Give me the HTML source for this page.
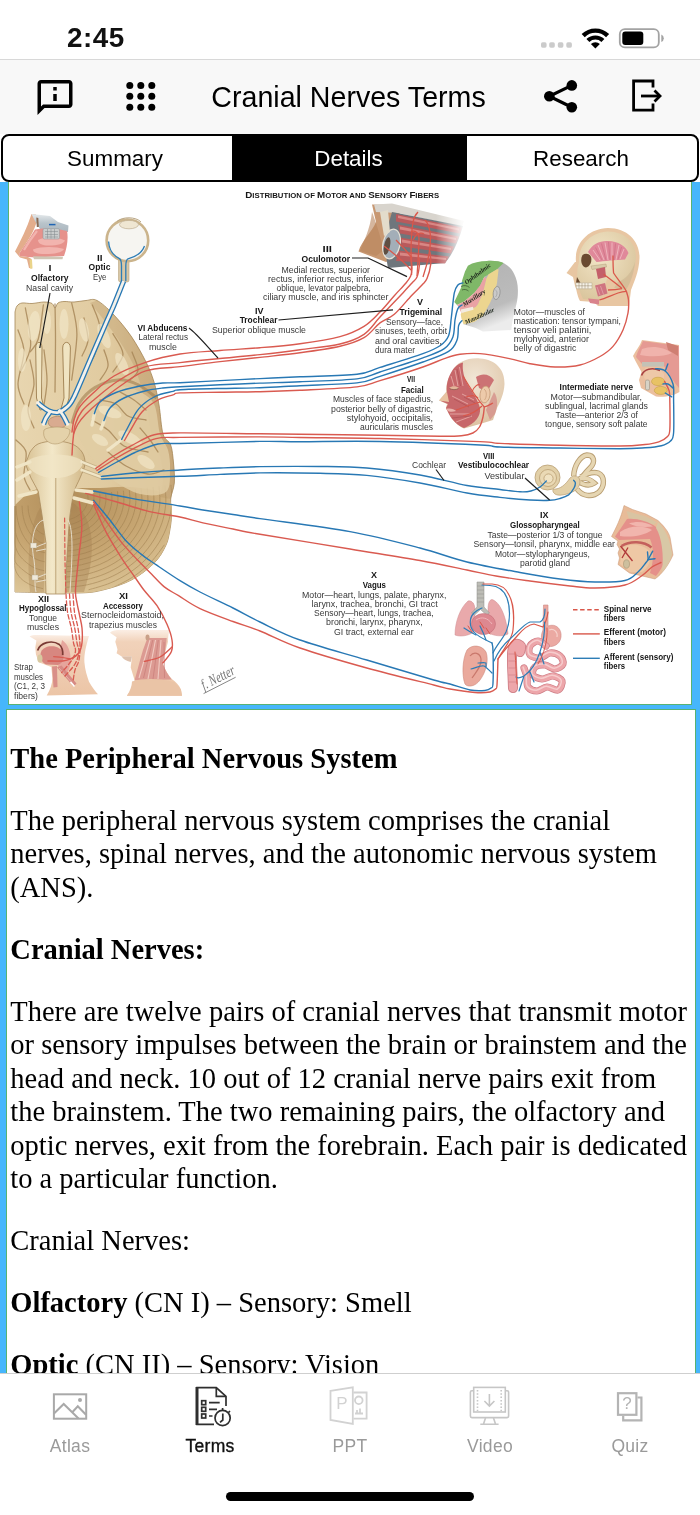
<!DOCTYPE html>
<html><head><meta charset="utf-8">
<style>
html,body{margin:0;padding:0;}
body{width:700px;height:1515px;position:relative;overflow:hidden;background:#fff;font-family:"Liberation Sans",sans-serif;}
.abs{position:absolute;}
#wrap{position:absolute;left:0;top:0;width:700px;height:1515px;will-change:transform;overflow:hidden;}
#status{left:0;top:0;width:700px;height:59px;background:#fff;}
#time{left:67px;top:22px;font-size:27.8px;font-weight:bold;letter-spacing:0.5px;line-height:32px;color:#111;}
#nav{left:0;top:59px;width:700px;height:75px;background:#f8f8f8;border-top:1.5px solid #d8d8d8;box-sizing:border-box;}
#title{left:0;width:697px;top:80px;text-align:center;font-size:28.6px;line-height:34px;color:#000;}
#blue{left:0;top:182px;width:700px;height:1192px;background:#46b6fc;}
#seg{z-index:3;left:1px;top:133.5px;width:698px;height:48.5px;box-sizing:border-box;border:2px solid #000;border-radius:8px;background:#fff;overflow:hidden;}
#seg div{position:absolute;top:0;height:45px;line-height:45px;text-align:center;font-size:22.4px;color:#000;}
#figpanel{left:8px;top:180px;width:684px;height:525px;background:#fff;box-sizing:border-box;border:1px solid #58b272;}
#textpanel{left:6px;top:709px;width:690px;height:700px;background:#fff;box-sizing:border-box;border:1px solid #58b272;}
#text{left:10.3px;top:741.8px;width:690px;font-family:"Liberation Serif",serif;font-size:28.5px;line-height:33.5px;color:#000;white-space:nowrap;}
#text p{margin:0 0 28.5px 0;}
#tabbar{left:0;top:1373px;width:700px;height:142px;background:#fff;border-top:1px solid #cfcfcf;box-sizing:border-box;}
.tl{position:absolute;top:1435px;width:140px;text-align:center;font-size:17.5px;line-height:22px;color:#9a9a9a;letter-spacing:0.3px;}
#home{left:226px;top:1492px;width:248px;height:9px;border-radius:5px;background:#000;}
</style></head><body>
<div id="wrap">
<div id="status" class="abs"></div>
<div id="time" class="abs">2:45</div>
<div id="nav" class="abs"></div>
<div id="title" class="abs">Cranial Nerves Terms</div>
<div id="blue" class="abs"></div>
<div id="seg" class="abs">
 <div style="left:0;width:229px;text-indent:-5px;">Summary</div>
 <div style="left:229px;width:235px;background:#000;color:#fff;text-indent:-2px;">Details</div>
 <div style="left:464px;width:230px;text-indent:-2px;">Research</div>
</div>
<div id="figpanel" class="abs"></div>
<!--FIGSVG-->
<svg class="abs" style="left:9px;top:184px" width="682" height="520" viewBox="9 184 682 520" font-family="Liberation Sans, sans-serif">
<defs>
<linearGradient id="gBrain" x1="0" y1="0" x2="1" y2="0"><stop offset="0" stop-color="#e8d6b0"/><stop offset="0.6" stop-color="#e0ca9f"/><stop offset="1" stop-color="#cfb184"/></linearGradient>
<radialGradient id="gCereb" cx="0.35" cy="0.15" r="0.95"><stop offset="0" stop-color="#b08c58"/><stop offset="0.5" stop-color="#c7a672"/><stop offset="1" stop-color="#dfc99c"/></radialGradient>
<linearGradient id="gStem" x1="0" y1="0" x2="1" y2="0"><stop offset="0" stop-color="#d8c193"/><stop offset="0.45" stop-color="#f3e8c9"/><stop offset="1" stop-color="#d2b888"/></linearGradient>
<radialGradient id="gSkin" cx="0.4" cy="0.35" r="0.8"><stop offset="0" stop-color="#f3dcc2"/><stop offset="1" stop-color="#dfb592"/></radialGradient>
<radialGradient id="gPink" cx="0.4" cy="0.35" r="0.8"><stop offset="0" stop-color="#f2b6b0"/><stop offset="1" stop-color="#d9807c"/></radialGradient>
<radialGradient id="gBone" cx="0.4" cy="0.35" r="0.8"><stop offset="0" stop-color="#f2e6c8"/><stop offset="1" stop-color="#d6c096"/></radialGradient>
<linearGradient id="gSkin2" x1="0" y1="0" x2="0" y2="1"><stop offset="0" stop-color="#fbeee4"/><stop offset="0.18" stop-color="#f1d2ba"/><stop offset="1" stop-color="#ecc5a6"/></linearGradient>
<linearGradient id="gGrey" x1="0" y1="0" x2="0.3" y2="1"><stop offset="0" stop-color="#b2b2b2"/><stop offset="0.75" stop-color="#bcbcbc"/><stop offset="1" stop-color="#ececec"/></linearGradient>
<linearGradient id="gFadeR" x1="0" y1="0" x2="1" y2="0"><stop offset="0" stop-color="#fff" stop-opacity="0"/><stop offset="0.8" stop-color="#fff" stop-opacity="0.9"/><stop offset="1" stop-color="#fff" stop-opacity="1"/></linearGradient>
<radialGradient id="gScalp" cx="0.55" cy="0.3" r="0.7"><stop offset="0" stop-color="#f1e6d6"/><stop offset="1" stop-color="#dcc0a0"/></radialGradient>
<linearGradient id="gNoseTop" x1="0" y1="0" x2="0" y2="1"><stop offset="0" stop-color="#e6eaec"/><stop offset="0.5" stop-color="#b9c4cb"/><stop offset="1" stop-color="#aab6be"/></linearGradient>
</defs>
<g id="brain">
<clipPath id="cbClip"><path d="M15.0 312.0 C15.3 311.0 15.8 307.5 17.0 306.0 C18.2 304.5 19.5 303.4 22.0 303.0 C24.5 302.6 28.3 303.7 32.0 303.5 C35.7 303.3 40.7 302.0 44.0 302.0 C47.3 302.0 50.2 302.5 52.0 303.5 C53.8 304.5 54.0 308.1 55.0 308.0 C56.0 307.9 56.5 304.1 58.0 303.0 C59.5 301.9 61.3 301.7 64.0 301.5 C66.7 301.3 70.3 302.2 74.0 302.0 C77.7 301.8 82.2 300.8 86.0 300.5 C89.8 300.2 92.5 298.2 97.0 300.5 C101.5 302.8 107.3 308.1 113.0 314.0 C118.7 319.9 125.5 328.0 131.0 336.0 C136.5 344.0 142.2 354.3 146.0 362.0 C149.8 369.7 151.8 374.8 154.0 382.0 C156.2 389.2 157.5 396.3 159.0 405.0 C160.5 413.7 161.1 427.3 163.0 434.0 C164.9 440.7 168.9 440.2 170.7 445.0 C172.4 449.8 172.9 456.7 173.5 463.0 C174.1 469.3 174.8 477.0 174.3 483.0 C173.8 489.0 171.2 493.3 170.7 499.0 C170.2 504.7 171.6 511.5 171.4 517.0 C171.2 522.5 170.4 527.2 169.5 532.0 C168.6 536.8 168.2 540.6 165.7 545.7 C163.2 550.9 160.0 557.2 154.3 562.9 C148.6 568.6 140.0 575.5 131.4 580.0 C122.8 584.5 112.0 587.8 102.9 590.0 C93.8 592.2 91.5 592.7 77.0 593.0 C62.5 593.3 26.2 592.2 16.0 592.0 L15 592 L15 312 Z"/></clipPath>
<path d="M15.0 312.0 C15.3 311.0 15.8 307.5 17.0 306.0 C18.2 304.5 19.5 303.4 22.0 303.0 C24.5 302.6 28.3 303.7 32.0 303.5 C35.7 303.3 40.7 302.0 44.0 302.0 C47.3 302.0 50.2 302.5 52.0 303.5 C53.8 304.5 54.0 308.1 55.0 308.0 C56.0 307.9 56.5 304.1 58.0 303.0 C59.5 301.9 61.3 301.7 64.0 301.5 C66.7 301.3 70.3 302.2 74.0 302.0 C77.7 301.8 82.2 300.8 86.0 300.5 C89.8 300.2 92.5 298.2 97.0 300.5 C101.5 302.8 107.3 308.1 113.0 314.0 C118.7 319.9 125.5 328.0 131.0 336.0 C136.5 344.0 142.2 354.3 146.0 362.0 C149.8 369.7 151.8 374.8 154.0 382.0 C156.2 389.2 157.5 396.3 159.0 405.0 C160.5 413.7 161.1 427.3 163.0 434.0 C164.9 440.7 168.9 440.2 170.7 445.0 C172.4 449.8 172.9 456.7 173.5 463.0 C174.1 469.3 174.8 477.0 174.3 483.0 C173.8 489.0 171.2 493.3 170.7 499.0 C170.2 504.7 171.6 511.5 171.4 517.0 C171.2 522.5 170.4 527.2 169.5 532.0 C168.6 536.8 168.2 540.6 165.7 545.7 C163.2 550.9 160.0 557.2 154.3 562.9 C148.6 568.6 140.0 575.5 131.4 580.0 C122.8 584.5 112.0 587.8 102.9 590.0 C93.8 592.2 91.5 592.7 77.0 593.0 C62.5 593.3 26.2 592.2 16.0 592.0 L15 592 L15 312 Z" fill="url(#gBrain)" stroke="#a38556" stroke-width="0.8"/>
<path d="M15.0 505.0 C17.5 502.8 25.0 494.8 30.0 492.0 C35.0 489.2 38.3 488.7 45.0 488.0 C51.7 487.3 60.8 488.0 70.0 488.0 C79.2 488.0 90.0 488.2 100.0 488.0 C110.0 487.8 120.0 486.3 130.0 487.0 C140.0 487.7 153.2 489.3 160.0 492.0 C166.8 494.7 169.1 498.8 171.0 503.0 C172.9 507.2 171.7 512.2 171.4 517.0 C171.2 521.8 170.4 527.2 169.5 532.0 C168.6 536.8 168.2 540.6 165.7 545.7 C163.2 550.9 160.0 557.2 154.3 562.9 C148.6 568.6 140.0 575.5 131.4 580.0 C122.8 584.5 112.0 587.8 102.9 590.0 C93.8 592.2 91.5 592.7 77.0 593.0 C62.5 593.3 26.2 592.2 16.0 592.0 L15 592 Z" fill="url(#gCereb)"/>
<g fill="none" stroke="#9c7c4c" stroke-width="0.800" opacity="0.65" clip-path="url(#cbClip)"><path d="M87.7 494.9 C87.8 495.7 88.1 498.0 87.9 499.6 C87.8 501.1 87.5 502.7 87.0 504.2 C86.5 505.7 85.8 507.1 85.0 508.5 C84.1 509.9 83.1 511.2 81.9 512.4 C80.8 513.6 79.4 514.7 78.0 515.6 C76.6 516.6 75.0 517.4 73.4 518.1 C71.8 518.8 70.0 519.3 68.3 519.7 C66.5 520.1 63.8 520.2 62.9 520.3"/><path d="M93.7 494.2 C93.7 495.1 94.1 498.0 93.9 499.9 C93.8 501.8 93.4 503.8 92.8 505.6 C92.1 507.4 91.3 509.2 90.3 510.9 C89.2 512.6 87.9 514.2 86.5 515.7 C85.1 517.2 83.4 518.5 81.7 519.7 C80.0 520.9 78.0 521.9 76.0 522.7 C74.0 523.6 71.9 524.2 69.7 524.7 C67.6 525.2 64.2 525.4 63.1 525.5"/><path d="M99.6 493.5 C99.7 494.6 100.1 498.0 99.9 500.3 C99.7 502.5 99.3 504.8 98.5 507.0 C97.8 509.2 96.8 511.3 95.6 513.3 C94.3 515.3 92.8 517.3 91.1 519.0 C89.4 520.7 87.5 522.4 85.4 523.8 C83.3 525.1 81.0 526.4 78.7 527.4 C76.3 528.4 73.7 529.2 71.2 529.7 C68.6 530.3 64.6 530.5 63.3 530.7"/><path d="M105.6 492.7 C105.6 494.1 106.1 498.0 105.9 500.6 C105.7 503.3 105.1 505.9 104.3 508.4 C103.5 511.0 102.3 513.4 100.8 515.8 C99.4 518.1 97.7 520.3 95.7 522.3 C93.7 524.3 91.5 526.2 89.1 527.8 C86.7 529.4 84.0 530.9 81.3 532.0 C78.5 533.2 75.6 534.1 72.6 534.7 C69.7 535.4 65.1 535.6 63.5 535.8"/><path d="M111.5 492.0 C111.6 493.5 112.1 498.0 111.9 501.0 C111.6 504.0 111.0 507.0 110.1 509.9 C109.1 512.7 107.8 515.6 106.1 518.2 C104.5 520.8 102.5 523.4 100.3 525.6 C98.1 527.9 95.5 530.0 92.8 531.9 C90.1 533.7 87.0 535.3 83.9 536.6 C80.8 538.0 77.5 539.0 74.1 539.7 C70.7 540.4 65.5 540.8 63.7 541.0"/><path d="M117.5 491.3 C117.5 493.0 118.1 498.0 117.9 501.4 C117.6 504.7 116.9 508.1 115.8 511.3 C114.8 514.5 113.3 517.7 111.4 520.6 C109.6 523.6 107.4 526.4 104.9 529.0 C102.4 531.5 99.5 533.9 96.5 536.0 C93.4 538.0 90.0 539.8 86.5 541.3 C83.1 542.7 79.3 543.9 75.5 544.7 C71.8 545.5 65.9 545.9 64.0 546.1"/><path d="M123.4 490.6 C123.5 492.4 124.1 498.0 123.8 501.7 C123.5 505.4 122.8 509.1 121.6 512.7 C120.4 516.2 118.8 519.8 116.7 523.0 C114.7 526.3 112.3 529.4 109.5 532.3 C106.7 535.1 103.6 537.7 100.2 540.0 C96.8 542.3 93.0 544.3 89.2 545.9 C85.3 547.5 81.2 548.8 77.0 549.7 C72.8 550.6 66.3 551.0 64.2 551.3"/><path d="M129.3 489.9 C129.4 491.9 130.2 498.0 129.8 502.1 C129.5 506.1 128.7 510.2 127.4 514.1 C126.1 518.0 124.3 521.9 122.0 525.5 C119.8 529.0 117.1 532.5 114.1 535.6 C111.1 538.7 107.6 541.6 103.9 544.1 C100.2 546.6 96.0 548.8 91.8 550.6 C87.6 552.3 83.0 553.8 78.5 554.7 C73.9 555.7 66.7 556.2 64.4 556.4"/><path d="M135.3 489.1 C135.4 491.4 136.2 498.0 135.8 502.4 C135.5 506.8 134.5 511.3 133.1 515.5 C131.7 519.8 129.7 524.0 127.3 527.9 C124.9 531.8 122.0 535.5 118.7 538.9 C115.4 542.3 111.6 545.4 107.6 548.1 C103.5 550.9 99.0 553.3 94.4 555.2 C89.8 557.1 84.9 558.7 79.9 559.7 C74.9 560.8 67.1 561.3 64.6 561.6"/><path d="M141.2 488.4 C141.3 490.8 142.2 498.0 141.8 502.8 C141.4 507.6 140.4 512.4 138.9 517.0 C137.4 521.5 135.2 526.1 132.6 530.3 C130.0 534.5 126.8 538.6 123.3 542.2 C119.7 545.9 115.6 549.3 111.3 552.2 C106.9 555.2 102.1 557.7 97.1 559.8 C92.1 561.9 86.7 563.6 81.4 564.8 C76.0 565.9 67.6 566.4 64.8 566.8"/><path d="M147.2 487.7 C147.3 490.3 148.2 498.0 147.8 503.2 C147.4 508.3 146.3 513.5 144.7 518.4 C143.0 523.3 140.7 528.2 137.9 532.7 C135.1 537.2 131.7 541.6 127.9 545.5 C124.0 549.5 119.6 553.1 114.9 556.3 C110.3 559.4 105.1 562.2 99.7 564.5 C94.3 566.7 88.6 568.5 82.8 569.8 C77.0 571.0 68.0 571.6 65.0 571.9"/><path d="M153.1 487.0 C153.2 489.7 154.2 498.0 153.8 503.5 C153.3 509.0 152.2 514.5 150.4 519.8 C148.7 525.1 146.2 530.3 143.2 535.1 C140.2 540.0 136.6 544.7 132.5 548.9 C128.4 553.1 123.7 557.0 118.6 560.3 C113.6 563.7 108.1 566.7 102.3 569.1 C96.6 571.5 90.4 573.4 84.3 574.8 C78.1 576.1 68.4 576.7 65.2 577.1"/><path d="M159.0 486.3 C159.2 489.2 160.2 498.1 159.8 503.9 C159.3 509.7 158.1 515.6 156.2 521.2 C154.3 526.8 151.7 532.4 148.5 537.6 C145.3 542.7 141.4 547.7 137.1 552.2 C132.7 556.6 127.7 560.8 122.3 564.4 C117.0 568.0 111.1 571.2 105.0 573.8 C98.9 576.3 92.3 578.4 85.7 579.8 C79.1 581.2 68.8 581.8 65.4 582.2"/><path d="M165.0 485.6 C165.1 488.7 166.2 498.1 165.7 504.2 C165.2 510.4 164.0 516.7 162.0 522.7 C160.0 528.6 157.2 534.5 153.8 540.0 C150.4 545.5 146.3 550.7 141.7 555.5 C137.0 560.2 131.7 564.7 126.0 568.5 C120.3 572.3 114.1 575.7 107.6 578.4 C101.1 581.1 94.2 583.3 87.2 584.8 C80.2 586.3 69.2 587.0 65.6 587.4"/><path d="M170.9 484.8 C171.1 488.1 172.3 498.1 171.7 504.6 C171.2 511.1 169.8 517.8 167.7 524.1 C165.6 530.4 162.7 536.6 159.1 542.4 C155.5 548.2 151.2 553.8 146.3 558.8 C141.4 563.8 135.7 568.5 129.7 572.5 C123.7 576.6 117.1 580.2 110.2 583.0 C103.4 585.9 92.2 588.7 88.6 589.8"/><path d="M164.4 544.8 C162.2 547.7 156.0 556.8 150.9 562.1 C145.7 567.4 139.8 572.4 133.4 576.6 C127.1 580.9 116.3 585.8 112.9 587.7"/></g>
<g fill="none" stroke="#9c7c4c" stroke-width="0.800" opacity="0.6"><path d="M46.3 534.9 C45.6 534.7 43.5 534.3 42.2 533.7 C40.8 533.1 39.5 532.2 38.3 531.2 C37.1 530.2 35.9 529.0 34.9 527.6 C33.8 526.3 32.9 524.7 32.0 523.1 C31.2 521.4 30.5 519.6 29.9 517.7 C29.3 515.8 28.8 513.8 28.5 511.7 C28.2 509.7 28.1 506.6 28.0 505.5"/><path d="M45.7 543.9 C44.8 543.6 42.1 543.1 40.4 542.3 C38.7 541.5 37.0 540.4 35.4 539.1 C33.8 537.8 32.3 536.2 30.9 534.4 C29.6 532.7 28.3 530.6 27.2 528.5 C26.2 526.3 25.2 523.9 24.4 521.5 C23.7 519.0 23.1 516.4 22.7 513.8 C22.3 511.1 22.1 507.0 22.0 505.7"/><path d="M45.2 552.8 C44.1 552.5 40.8 551.9 38.6 550.9 C36.5 549.9 34.4 548.6 32.5 547.0 C30.5 545.4 28.7 543.4 27.0 541.2 C25.3 539.0 23.8 536.5 22.4 533.9 C21.1 531.2 19.9 528.3 19.0 525.3 C18.1 522.3 17.3 519.0 16.8 515.8 C16.3 512.6 16.1 507.5 16.0 505.8"/><path d="M44.7 561.8 C43.4 561.4 39.4 560.7 36.9 559.5 C34.4 558.4 31.9 556.8 29.6 554.9 C27.3 552.9 25.1 550.6 23.1 548.0 C21.1 545.4 19.0 542.5 17.7 539.3 C16.3 536.1 15.4 532.7 15.0 529.1 C14.6 525.5 15.0 521.7 15.0 517.8 C15.0 514.0 15.0 508.0 15.0 506.0"/><path d="M44.2 570.7 C42.7 570.3 38.1 569.5 35.1 568.1 C32.2 566.8 29.3 564.9 26.7 562.7 C24.0 560.5 21.1 557.8 19.1 554.8 C17.2 551.8 15.7 548.4 15.0 544.7 C14.3 541.1 15.0 537.0 15.0 532.9 C15.0 528.7 15.0 524.3 15.0 519.8 C15.0 515.4 15.0 508.4 15.0 506.2"/><path d="M43.6 579.7 C41.9 579.2 36.7 578.2 33.4 576.7 C30.1 575.2 26.8 573.1 23.8 570.6 C20.7 568.1 16.7 565.0 15.2 561.6 C13.7 558.2 15.0 554.3 15.0 550.1 C15.0 546.0 15.0 541.4 15.0 536.7 C15.0 532.0 15.0 526.9 15.0 521.9 C15.0 516.8 15.0 508.9 15.0 506.3"/><path d="M43.1 588.7 C41.2 588.1 35.3 587.0 31.6 585.3 C27.9 583.6 23.6 581.3 20.9 578.5 C18.1 575.6 16.0 572.2 15.0 568.4 C14.0 564.6 15.0 560.2 15.0 555.6 C15.0 550.9 15.0 545.8 15.0 540.5 C15.0 535.2 15.0 529.6 15.0 523.9 C15.0 518.2 15.0 509.4 15.0 506.5"/></g>
<path d="M68 500 C90 510 100 540 84 592 L66 592 L66 520Z" fill="#a07c4c" opacity="0.35"/>
<path d="M42 505 C30 520 26 560 30 592 L44 592 L44 520Z" fill="#a07c4c" opacity="0.30"/>
<path d="M97.0 300.5 C99.7 302.8 107.3 308.1 113.0 314.0 C118.7 319.9 125.5 328.0 131.0 336.0 C136.5 344.0 142.2 354.3 146.0 362.0 C149.8 369.7 151.8 374.8 154.0 382.0 C156.2 389.2 157.5 396.3 159.0 405.0 C160.5 413.7 161.1 427.3 163.0 434.0 C164.9 440.7 168.9 440.2 170.7 445.0 C172.4 449.8 172.9 456.7 173.5 463.0 C174.1 469.3 174.8 477.0 174.3 483.0 C173.8 489.0 171.3 496.3 170.7 499.0 L160.0 497.0 C160.5 493.8 163.0 484.8 163.0 478.0 C163.0 471.2 161.8 463.0 160.0 456.0 C158.2 449.0 154.2 443.7 152.0 436.0 C149.8 428.3 148.8 418.3 147.0 410.0 C145.2 401.7 143.3 393.7 141.0 386.0 C138.7 378.3 136.5 371.3 133.0 364.0 C129.5 356.7 124.8 349.3 120.0 342.0 C115.2 334.7 109.0 326.5 104.0 320.0 C99.0 313.5 92.3 305.8 90.0 303.0 Z" fill="#b08c5a" opacity="0.28"/>
<path d="M71.7 423.6 C73.0 420.2 75.5 409.0 79.4 403.0 C83.3 397.0 88.5 391.5 94.9 387.6 C101.3 383.8 110.7 380.3 118.0 379.9 C125.3 379.5 132.2 382.0 138.6 385.0 C145.0 388.0 153.6 395.8 156.6 397.9" fill="none" stroke="#9a7848" stroke-width="3" opacity="0.55"/>
<path d="M74.0 430.0 C75.3 426.3 78.2 414.2 82.0 408.0 C85.8 401.8 91.0 396.7 97.0 393.0 C103.0 389.3 111.2 386.3 118.0 386.0 C124.8 385.7 132.0 388.0 138.0 391.0 C144.0 394.0 150.3 396.8 154.0 404.0 C157.7 411.2 157.7 426.3 160.0 434.0 C162.3 441.7 166.3 444.0 168.0 450.0 C169.7 456.0 170.3 463.0 170.0 470.0 C169.7 477.0 171.0 488.0 166.0 492.0 C161.0 496.0 149.3 496.3 140.0 494.0 C130.7 491.7 118.3 484.3 110.0 478.0 C101.7 471.7 93.3 459.7 90.0 456.0 Z" fill="#e1cda3" opacity="0.85"/>
<g fill="none" stroke="#a58455" stroke-width="1.300" opacity="0.8" stroke-linecap="round"><path d="M55.0 304.0 C55.1 310.0 55.5 325.3 55.5 340.0 C55.5 354.7 55.1 383.3 55.0 392.0"/><path d="M25.4 308.0 C26.3 314.3 31.5 335.3 30.6 346.0 C29.8 356.7 22.0 367.7 20.3 372.0"/><path d="M43.4 305.0 C42.5 310.7 40.5 331.2 38.3 339.0 C36.1 346.8 31.4 349.8 30.0 352.0"/><path d="M18.0 330.0 C19.0 333.7 24.0 343.0 24.0 352.0 C24.0 361.0 18.0 375.3 18.0 384.0 C18.0 392.7 23.0 400.7 24.0 404.0"/><path d="M30.0 360.0 C30.7 364.0 34.3 375.7 34.0 384.0 C33.7 392.3 28.0 402.7 28.0 410.0 C28.0 417.3 33.0 425.0 34.0 428.0"/><path d="M44.0 350.0 C44.5 355.0 47.0 370.8 47.0 380.0 C47.0 389.2 44.5 400.8 44.0 405.0"/><path d="M71.7 303.0 C72.6 308.2 76.9 321.2 76.9 334.0 C76.9 346.8 72.6 372.3 71.7 380.0"/><path d="M92.3 305.0 C93.6 308.8 99.6 319.8 100.0 328.0 C100.4 336.2 97.6 346.7 94.9 354.0 C92.2 361.3 85.8 369.0 84.0 372.0"/><path d="M112.9 333.6 C114.6 337.0 123.0 347.6 123.0 354.0 C123.0 360.4 114.6 369.0 112.9 372.0"/><path d="M84.0 318.0 C84.7 321.7 88.3 333.7 88.0 340.0 C87.7 346.3 83.0 353.3 82.0 356.0"/><path d="M104.0 350.0 C104.7 352.7 108.7 361.0 108.0 366.0 C107.3 371.0 101.3 377.7 100.0 380.0"/><path d="M132.0 352.0 C133.0 355.0 138.3 365.3 138.0 370.0 C137.7 374.7 131.3 378.3 130.0 380.0"/><path d="M100.0 400.0 C102.7 400.7 111.3 401.3 116.0 404.0 C120.7 406.7 123.0 413.3 128.0 416.0 C133.0 418.7 143.0 419.3 146.0 420.0"/><path d="M92.0 420.0 C94.7 421.7 102.7 425.7 108.0 430.0 C113.3 434.3 117.3 442.3 124.0 446.0 C130.7 449.7 144.0 451.0 148.0 452.0"/><path d="M108.0 452.0 C111.0 454.3 119.3 462.3 126.0 466.0 C132.7 469.7 141.7 473.3 148.0 474.0 C154.3 474.7 161.3 470.7 164.0 470.0"/><path d="M120.0 392.0 C122.3 393.3 129.7 397.0 134.0 400.0 C138.3 403.0 144.0 408.3 146.0 410.0"/><path d="M140.0 428.0 C141.7 430.0 147.0 436.0 150.0 440.0 C153.0 444.0 156.7 450.0 158.0 452.0"/><path d="M16.0 440.0 C17.7 442.0 24.7 446.0 26.0 452.0 C27.3 458.0 23.3 469.7 24.0 476.0 C24.7 482.3 29.0 487.7 30.0 490.0"/></g>
<g fill="#f3e8ca" opacity="0.65"><ellipse cx="34" cy="326" rx="6" ry="15" transform="rotate(6 34 326)"/><ellipse cx="47" cy="322" rx="4" ry="12"/><ellipse cx="64" cy="324" rx="4.500" ry="15"/><ellipse cx="84" cy="330" rx="4.500" ry="12" transform="rotate(-12 84 330)"/><ellipse cx="104" cy="336" rx="5" ry="13" transform="rotate(-22 104 336)"/><ellipse cx="122" cy="364" rx="5" ry="12" transform="rotate(-25 122 364)"/><ellipse cx="22" cy="360" rx="4" ry="12"/><ellipse cx="26" cy="418" rx="5" ry="13"/><ellipse cx="40" cy="376" rx="3.500" ry="14"/><ellipse cx="110" cy="412" rx="12" ry="5" transform="rotate(20 110 412)"/><ellipse cx="130" cy="438" rx="13" ry="5" transform="rotate(28 130 438)"/><ellipse cx="146" cy="462" rx="10" ry="5" transform="rotate(35 146 462)"/><ellipse cx="100" cy="440" rx="9" ry="4.500" transform="rotate(30 100 440)"/></g>
<path d="M35.700 348 C35.700 340.500 42 340.500 42 348 L41.500 398 L44.500 409 L40 410 L36.500 398Z" fill="#f0e4c2" stroke="#9c7d4e" stroke-width="0.9"/>
<path d="M62.700 348 C62.700 340.500 70.400 340.500 70.400 348 L69 398 L65.500 410 L61 409 L64 398Z" fill="#f0e4c2" stroke="#9c7d4e" stroke-width="0.9"/>
<path d="M30.0 452.0 C31.3 450.7 33.8 445.8 38.0 444.0 C42.2 442.2 49.3 441.0 55.0 441.0 C60.7 441.0 67.5 442.2 72.0 444.0 C76.5 445.8 79.8 448.7 82.0 452.0 C84.2 455.3 85.3 459.7 85.0 464.0 C84.7 468.3 81.8 473.4 80.0 478.0 C78.2 482.6 76.0 485.2 74.3 491.4 C72.6 497.6 71.1 506.4 70.0 515.0 C68.9 523.6 68.6 533.0 67.9 543.0 C67.2 553.0 66.4 566.5 66.0 575.0 C65.6 583.5 65.4 590.8 65.3 594.0 L46 594 L45.5 575 L46 543 L42 515 L38.3 491.4 L31 478 L25.4 464 Z" fill="url(#gStem)" stroke="#a98c5e" stroke-width="0.8"/>
<path d="M55.800 478 L55.800 594" stroke="#b79c6e" stroke-width="0.9" fill="none"/>
<path d="M26 462 C36 452 74 452 84 462 C80 472 70 478 55 478 C40 478 30 472 26 462Z" fill="#f1e6c6" opacity="0.7"/>
<g stroke="#f0e5c6" stroke-width="3.400" stroke-linecap="round" fill="none"><path d="M82 462 L97 468"/><path d="M82 470 L101 477"/><path d="M76 490 L92 492"/><path d="M74 498 L93 503"/><path d="M30 462 L17 467"/><path d="M30 472 L17 480"/><path d="M36 492 L19 496"/><path d="M92 425 L94.300 414"/><path d="M101 429 L104 421"/><path d="M108 450 L121 440"/></g>
<g stroke="#a98c5e" stroke-width="0.5" fill="none"><path d="M82 460.300 L97 466.300 M82 463.700 L97 469.700 M82 468.300 L101 475.300 M82 471.700 L101 478.700"/></g>
<g stroke="#e9e3d4" stroke-width="1" fill="none" opacity="0.9"><path d="M44 520 C34 522 30 540 34 560 C36 575 34 585 36 592"/><path d="M68 520 C74 530 72 560 70 592"/><path d="M36 547 L46 543 M36 551 L46 549 M36 578 L46 574 M36 582 L46 580"/></g>
<rect x="30.500" y="543" width="6" height="5" fill="#efe9da" stroke="#b5aa90" stroke-width="0.4"/><rect x="32" y="575" width="6" height="5" fill="#efe9da" stroke="#b5aa90" stroke-width="0.4"/>
<ellipse cx="57.600" cy="422.300" rx="9.500" ry="6" fill="#d9ab90" stroke="#a1805c" stroke-width="0.6"/>
<path d="M44 430 C48 426 66 426 70 430 C70 438 62 444 55 444 C48 444 42 438 44 430Z" fill="#e4d2aa" stroke="#a98c5e" stroke-width="0.5"/>
</g>
<g id="nose">
<path d="M31.500 214 L36 214.500 L36 224 C32 236 24 246 19 254 L20 256 L28 257 L31.500 259 L32 268.500 L29 268 L27 259.500 L20 257.500 L15 251.500 C21 240 27 228 31.500 214Z" fill="#e3ad8c"/>
<path d="M31.500 214 L50 216 L58 222 L68.500 225.500 L68 232 L40 229 L35 221Z" fill="url(#gNoseTop)"/>
<path d="M36.300 217.500 L38.300 218 L38.800 227 L36.800 227Z" fill="#8a6a52"/>
<path d="M19 254 C24 246 30 238 35 229.500 L42 228.500 L60 229.500 L67 231 C68.500 238 67 248 64 256 L36 257.500 L28 257 L20 256Z" fill="#e6928c"/>
<path d="M38 240 C46 236.500 58 237 65 240.500 C64 244 56 246 46 245.500 C41 245 38 243 38 240Z" fill="#f2b4ae"/>
<path d="M33 249.500 C42 246 56 246.500 64 249 C62 253 52 254.500 42 254 C36 253.500 33 252 33 249.500Z" fill="#f2b4ae"/>
<path d="M24 250 C28 243 33 236 37 231" stroke="#f2b4ae" stroke-width="2.200" fill="none"/>
<rect x="43" y="228.500" width="16.500" height="10.500" rx="1.500" fill="#c9cccc" stroke="#8d9498" stroke-width="0.5"/>
<path d="M45 231.500 h13 M45 234.500 h13 M45 237 h13 M47.500 229 v9.500 M51 229 v9.500 M54.500 229 v9.500" stroke="#80888c" stroke-width="0.5" fill="none"/>
<path d="M49 224.600 h6.500" stroke="#1f64b4" stroke-width="1.500"/>
<path d="M33 256.300 L63 256.800 L62.500 259.300 L34 259.300Z" fill="#cfc6b4"/>
<path d="M29.500 259.500 L32 259.500 L32.500 268.500 L30 268.500Z" fill="#ead48a"/>
</g>
<g id="eye">
<rect x="118.500" y="256" width="10.500" height="26" rx="2" fill="#d8c7a6" stroke="#b8a27c" stroke-width="0.6"/>
<circle cx="127.400" cy="240.400" r="20.800" fill="#f6f5f1" stroke="#cbb48c" stroke-width="2.600"/>
<ellipse cx="129" cy="224.600" rx="9.500" ry="4.200" fill="#efe6d2" stroke="#bfae90" stroke-width="0.7"/>
<path d="M117 221.500 C122 216.500 136 216.500 141 222" fill="none" stroke="#b9a684" stroke-width="1"/>
<path d="M108.600 241.500 C109 250 114 256 119.500 258.600 C121.500 260 121.500 262 121.500 266 L121.500 281" fill="none" stroke="#2d7db6" stroke-width="1.300"/>
<path d="M144.500 246 C142 253 135 257 128 258.800 C126 260 125.800 262 125.800 266 L125.800 281" fill="none" stroke="#2d7db6" stroke-width="1.300"/>
</g>
<g id="orbit">
<path d="M372 204.500 L392 205 L400 214 L396 258 L386 262 L358.500 251.500 C362 240 372 232 376 222 Z" fill="#c89872"/>
<path d="M372 212 C376 222 380 236 384 250 L376 256 L360 251 C364 240 370 230 372 212Z" fill="#b9855e" opacity="0.6"/>
<path d="M374 204.500 L392 203.500 L464 221 L462 226.500 L398 213 L376 212Z" fill="#d8d4cd"/>
<path d="M392 212 L463 226 C459 240 453 254 445 263 L388 268 C384 250 386 230 392 212Z" fill="#6f767c"/>
<g fill="#b95a5c"><path d="M396 214 L462 227.500 L460 233.500 L396 221.500Z"/><path d="M398 224.500 L459 236.500 L456 243.500 L400 233.500Z"/><path d="M400 237.500 L454 246.500 L451 253.500 L402 246.500Z"/><path d="M398 250.500 L449 256.500 L445 263.500 L396 261Z"/></g>
<g fill="#de8f8c" opacity="0.85"><path d="M398 215.500 L459 228.500 L459 230.500 L398 218Z"/><path d="M400 226.500 L456 238 L456 240 L400 229.500Z"/><path d="M402 239.500 L451 248 L451 250 L402 242.500Z"/><path d="M400 252.500 L446 258 L446 260 L400 255.500Z"/></g>
<ellipse cx="391.500" cy="244" rx="8.500" ry="15" transform="rotate(12 391.500 244)" fill="#a3aeb8" stroke="#e6e1d6" stroke-width="1.300"/>
<ellipse cx="387" cy="246" rx="3" ry="9" transform="rotate(12 387 246)" fill="#5f4e42"/>
<path d="M380 212 L388 210 L390 232 L384 236Z" fill="#e3dccb"/>
<rect x="436" y="200" width="32" height="72" fill="url(#gFadeR)"/>
<path d="M411.600 275 C411 262 410 240 413 222 C414 217 416 214 418 212" fill="none" stroke="#d9574a" stroke-width="1.300"/>
<path d="M417 276 C418 262 419 245 419 238 C419 232 414 230 411 232" fill="none" stroke="#d9574a" stroke-width="1.300"/>
<path d="M423 277 C428 262 432 246 430 232 C429 226 427 222 425 220" fill="none" stroke="#d9574a" stroke-width="1.300"/>
<path d="M411 270 C404 262 392 252 384 246" fill="none" stroke="#d9574a" stroke-width="1.300"/>
<path d="M412 258 C406 250 400 244 396 240" fill="none" stroke="#d9574a" stroke-width="1.300"/>
<path d="M413 240 C416 234 420 232 424 234" fill="none" stroke="#d9574a" stroke-width="1.300"/>
</g>
<g id="derm">
<path d="M487 261 C494 260.500 500 261.500 504.300 263.600 C509 266 512.500 270 514.300 274.300 C516.500 279 517.900 284 517.900 290 C518 295 517.500 300 516.400 304.300 C515.500 308 514.500 312 513.600 315.700 C512.500 320 511.800 325 511.400 330 L482.900 331.400 L475.700 327.900 L463.600 324.300 L470 300 L486 275 Z" fill="url(#gGrey)"/>
<path d="M467.900 265.700 C473 262.500 480 261 487 261 C494 260.500 500 261.500 503.600 262.900 L497 269.300 L484.300 277 L480 285.700 L474.300 292.900 L464.300 301.400 L457 305 L454.300 302 L461.400 287 L462 280.700 L465 271.400Z" fill="#7fb868"/>
<path d="M484.300 277 L486.400 278.600 L482.900 292.900 L477.900 304.300 L475.700 307 L461.400 312.900 L458.600 307 L457 305 L464.300 301.400 L474.300 292.900 L480 285.700Z" fill="#eaa2a4"/>
<path d="M486.400 278.600 L488.600 274.300 L497 269.300 L498.600 269.300 L497 282.900 L495 291.400 L490 302.900 L482.900 315.700 L474.300 322 L463.600 324.300 L461.400 318.600 L460.700 314.300 L461.400 312.900 L475.700 307 L477.900 304.300 L482.900 292.900Z" fill="#ecd58f"/>
<path d="M460.700 309.500 L473 306.800 L473.500 309.800 L461.400 312.900Z" fill="#f3ece0"/>
<ellipse cx="496.600" cy="293" rx="3.400" ry="6.600" transform="rotate(8 496.600 293)" fill="#c9c9c9" stroke="#8a8a8a" stroke-width="0.7"/><path d="M495.500 290 C497.500 291 497.500 295 495.500 297" fill="none" stroke="#8a8a8a" stroke-width="0.5"/>
<path d="M461 286.500 C464 285 467.500 285.500 469.500 287.500 M462 290 C464 289 467 289.500 468.500 291" stroke="#34502e" stroke-width="0.7" fill="none"/>
<g font-family="Liberation Serif, serif" font-weight="bold" font-style="italic" font-size="6.400" fill="#1b251b"><text transform="translate(466.500 284.800) rotate(-37)">Ophthalmic</text><text transform="translate(464.500 306.800) rotate(-34)">Maxillary</text><text transform="translate(466 324.500) rotate(-25)">Mandibular</text></g>
</g>
<g id="skull">
<path d="M576 262 C574 244 588 228.500 608 228 C628 228 640 242 639.500 258 C639 272 634 282 631 290 L629 306 L598 306 L594 302 L580 301 C577 296 577 290 575 286 L573 277 L566.500 273 L575 262Z" fill="#e8c6a2"/>
<path d="M579 262 C578 246 590 232 608 231.500 C626 231.500 636.500 244 636 258 C635.500 270 628 280 618 282 L607 279 L601 300 L583 299 C580 293 578.500 287 577.500 282 L577 277 L577.500 268Z" fill="url(#gBone)"/>
<path d="M618 282 C626 279 632 272 635 262 C634 274 630 284 626 290 L614 288Z" fill="#cdb994" opacity="0.7"/>
<path d="M582.500 255 C585.500 252.500 590 253.500 591.200 257.500 C592 262 590 266.500 586 267.500 C581.500 267 579.800 260 582.500 255Z" fill="#6a4a30"/>
<path d="M577 277 L576 283 L580.500 283Z" fill="#6a4a30"/>
<path d="M591 266 L606 264 L606.500 267 L592 269.500Z" fill="#d9cbaa" stroke="#a8946c" stroke-width="0.4"/>
<path d="M588 252 C592 244 600 240.500 608 241 C618 241 626 246 628.500 253 L625 259.500 C616 260 604 261 596.500 262 Z" fill="#e0899a"/>
<g stroke="#f4c6cc" stroke-width="0.7" fill="none"><path d="M593 250 L600 260"/><path d="M598 245 L604 260"/><path d="M605 242.500 L608 260"/><path d="M612 242.500 L612 260"/><path d="M619 245 L616 260"/><path d="M624 249 L620 259"/></g>
<g stroke="#c4647a" stroke-width="0.5" fill="none"><path d="M595.500 247.500 L602 260"/><path d="M601.500 243.500 L606 260"/><path d="M608.500 242 L610 260"/><path d="M615.500 243.500 L614 260"/><path d="M621.500 247 L618 259.500"/></g>
<path d="M596 269 L605 267 L606 277 L598 279Z" fill="#c4606a"/>
<path d="M595 285.500 L605 283 L607.500 293.500 L598 296.500Z" fill="#cf7480"/><path d="M597 287 L600 295 M600.500 286 L603.500 294.500" stroke="#eab2b8" stroke-width="0.6"/>
<path d="M588 298.500 L599 299.500 L599 304.500 L590 303Z" fill="#d9838c"/>
<path d="M575.500 282.800 L592 282.800 L592 288.800 L576.500 288.800Z" fill="#f6f2e8" stroke="#b3a486" stroke-width="0.5"/><path d="M576 285.800 H592 M579 283 V288.500 M582 283 V288.500 M585 283 V288.500 M588 283 V288.500" stroke="#8b7a5c" stroke-width="0.45"/>
<path d="M613 255.500 C613 262 613 268 613.600 273 C618 280 624 286 626.400 291.400" fill="none" stroke="#d9574a" stroke-width="1.300"/>
<path d="M603.600 274.300 C610 279 618 285 622 288.600" fill="none" stroke="#d9574a" stroke-width="1.300"/>
<path d="M608 290 C612 290 618 289.500 622 288.600" fill="none" stroke="#d9574a" stroke-width="1.300"/>
<path d="M599.300 300 C606 298 612 295 618 293 C621 292 624 291.500 626.400 291.400" fill="none" stroke="#d9574a" stroke-width="1.300"/>
</g>
<g id="face">
<path d="M452 372 C456 362 468 357.500 480 358.500 C496 359.500 505 370 504.500 384 C504 394 500 402 497 408 L493 420 L480 424 L464 428.500 C458 426 452 420 449 414 L446 408 L447 404 L439 400.500 L446 392 C446 384 448 378 452 372Z" fill="url(#gScalp)"/>
<path d="M452 371 C455 366 459 363.500 463 362.500 C462 370 464 378 468 385 C473 393 478 400 480 408 C481 416 475 424 464 428 C458 426 452 420 449 414 L446 408 L448 404 L441 401 L447 392 C446 384 448 378 452 371Z" fill="#c7676a"/>
<path d="M476 377 C482 372.500 490 374 494 380 L487 392 L479 388Z" fill="#cc7274"/>
<path d="M494 392 C498 398 498 406 495 414 L490 420 L486 410Z" fill="#d4908a" opacity="0.8"/>
<path d="M439 400.500 L447 392 L449 402Z" fill="#e8c3a2"/>
<path d="M449 388 C452 385.500 456 385.500 459 388 C456 390.500 452 390.500 449 388Z" fill="#e4b69a"/><path d="M449.500 388.500 C452 390 456 390 458.500 388.500" stroke="#6a3a34" stroke-width="0.6" fill="none"/>
<path d="M446 409 C450 408 454 409 456 411 C452 412.500 448 412 446 409Z" fill="#e9b3ac"/>
<g stroke="#eab0ac" stroke-width="0.8" fill="none"><path d="M455 370 L458 386"/><path d="M459.500 367 L463 386"/><path d="M452 396 L468 404"/><path d="M450 414 L470 414"/><path d="M456 422 L472 416"/><path d="M462 394 L474 400"/><path d="M451 376 L454 386"/></g>
<g stroke="#a84c50" stroke-width="0.6" fill="none"><path d="M457 369 L460.500 386"/><path d="M454 399 L469 407"/><path d="M452 418 L471 416"/><path d="M464 397 L475 403"/></g>
<ellipse cx="485" cy="394.500" rx="5" ry="8.500" transform="rotate(8 485 394.500)" fill="#edcaaa" stroke="#c0926e" stroke-width="0.7"/><path d="M484 389 C487 391 487 397 484.500 400" fill="none" stroke="#c0926e" stroke-width="0.6"/>
<path d="M484.300 407 C478 400 470 388 463 376" fill="none" stroke="#d9574a" stroke-width="1.200"/>
<path d="M478 398 C474 394 470 396 466 397" fill="none" stroke="#d9574a" stroke-width="1.200"/>
<path d="M480 402 C472 404 462 408 456 410" fill="none" stroke="#d9574a" stroke-width="1.200"/>
<path d="M482 406 C476 412 468 415 463 416" fill="none" stroke="#d9574a" stroke-width="1.200"/>
<path d="M484.300 407 C488 406 491 404 493 403" fill="none" stroke="#d9574a" stroke-width="1.200"/>
<path d="M472 392 C474 386 478 384 480 385" fill="none" stroke="#d9574a" stroke-width="1.200"/>
</g>
<g id="nasal2">
<path d="M642 340 L679 345 L679.400 392 C674 396 664 397.500 656 396.500 L641 388 L639 380 L641.500 372 L636 362 L633 356 C636 350 640 346 642 340Z" fill="#ebbf9f"/>
<path d="M643 341 L679 346 L679 388 C672 380 668 372 664 366 L642 364 L636 357 C638 350 641 346 643 341Z" fill="#e59a93"/>
<path d="M642 349 C652 345 664 347 672 353 C664 357 650 357 640 355Z" fill="#f0b3ac"/><path d="M666 342 L678 346 L678 356 L668 350Z" fill="#cf7f72"/>
<path d="M642 362 H664 V366.600 H642Z" fill="#c4c2b6"/>
<path d="M645 368 C652 366 660 368 664 374 L664 380 C656 384 648 382 644 378Z" fill="#eec8a8"/>
<ellipse cx="658" cy="381.400" rx="6.500" ry="4.200" fill="#e8c264" stroke="#c19a3c" stroke-width="0.5"/><ellipse cx="660.800" cy="390.400" rx="6.500" ry="4" fill="#e8c264" stroke="#c19a3c" stroke-width="0.5"/>
<rect x="645.500" y="380" width="4" height="10" rx="1.500" fill="#d6d2c6" stroke="#8e8a7e" stroke-width="0.5"/>
<path d="M641.500 375.500 C644 369 652 367 660 370.500" fill="none" stroke="#a84040" stroke-width="1.600"/>
</g>
<g id="innerear">
<g fill="none" stroke="#b99e72" stroke-width="5.400"><path d="M573.700 476 C574 466 580 456 587 455 C594 455 596 462 590 468 C586 472 583 475 582.300 478"/><path d="M577 489 C582 496 592 498 599 492 C605 486 605 476 598 473 C592 471 586 474 580.600 477"/><path d="M579 479 C584 477 590 479 594.300 483 C590 486 584 485 579 482"/></g>
<g fill="none" stroke="#e6d6b2" stroke-width="3.600"><path d="M573.700 476 C574 466 580 456 587 455 C594 455 596 462 590 468 C586 472 583 475 582.300 478"/><path d="M577 489 C582 496 592 498 599 492 C605 486 605 476 598 473 C592 471 586 474 580.600 477"/><path d="M579 479 C584 477 590 479 594.300 483 C590 486 584 485 579 482"/></g>
<path d="M553 489 C560 490 566 484 570 478 C574 474 580 476 580 482 C580 490 570 494 562 495 C556 496 552 493 553 489Z" fill="#e2d0a8" stroke="#b99e72" stroke-width="0.7"/>
<circle cx="547.500" cy="477.500" r="12.500" fill="#e2d0a8" stroke="#b99e72" stroke-width="0.8"/><circle cx="548" cy="478" r="8.500" fill="#ead9b4" stroke="#c0a67a" stroke-width="0.9"/><circle cx="548.500" cy="478.500" r="4.600" fill="#f0e2c2" stroke="#c0a67a" stroke-width="0.9"/>
</g>
<g id="pharynx">
<path d="M624 505.500 L632.500 509.500 L646 514 L658 520.500 C666 528 670 534 670.500 540 L673 555 C668 566 662 574 655 579 L629.500 573 L618 564.500 L619.500 558 L618 553 L619.500 549 L617 544.500 L618 541 L611.500 536.500 C616 528 621 518 624 505.500Z" fill="#e8bb98" stroke="#c99674" stroke-width="0.5"/>
<path d="M626.500 511 L646 516.500 L657 522.500 L650 527 L630 522Z" fill="#d9c4a2"/>
<path d="M627 519 C636 518 648 521 656 527 C662 534 666 542 667 552 C665 562 661 570 656 576 L650 573 C654 560 654 548 650 539 L619 540 L615 536.500 C619 531 623 525 627 519Z" fill="#e5908a"/>
<path d="M620 532 C630 525 644 525 652 530 C644 536 630 537.500 620 536Z" fill="#f1b5ad"/><path d="M629 523.500 C637 520.500 647 522 653 526.500 C645 527.500 635 527 629 523.500Z" fill="#f1b5ad"/>
<path d="M658 522 C666 530 670 540 672 554 C670 562 666 568 662 572 C664 556 662 538 656 528Z" fill="#d8c8a6"/>
<path d="M622 548 C630 542.500 644 544 650 552 C652 560 648 568 642 572 L630 572 L620 564Z" fill="#eec8a5"/>
<path d="M621.500 546 C630 540.500 644 541 651.500 547.500" fill="none" stroke="#c4605c" stroke-width="2.400"/>
<ellipse cx="626.500" cy="564" rx="3" ry="4.200" fill="#cdbf9e" stroke="#9c8d6c" stroke-width="0.5"/>
<path d="M620.500 546 L632.500 561 M628 547.500 L622 558" stroke="#b03838" stroke-width="1.300" fill="none"/>
</g>
<g id="viscera">
<path d="M468 601 C472 600 475 604 475 610 L474 632 C468 636 460 637 455 635 C455 622 460 608 468 601Z" fill="#e9a9ab" stroke="#cf8a8e" stroke-width="0.5"/>
<path d="M492 599.500 C500 602 506 616 508 634 C502 637 494 636 489 633 L488 610 C488 604 489 600 492 599.500Z" fill="#e9a9ab" stroke="#cf8a8e" stroke-width="0.5"/>
<path d="M477 582 H484 V607 L489.500 613 L486.500 615 L480.500 609.500 L474.500 615 L471.500 613 L477 607Z" fill="#bdbdb6" stroke="#8f8f88" stroke-width="0.5"/>
<path d="M477 586 H484 M477 590 H484 M477 594 H484 M477 598 H484 M477 602 H484" stroke="#8f8f88" stroke-width="0.5"/>
<ellipse cx="483.500" cy="624" rx="12" ry="10.500" fill="#dd8890" stroke="#c06a74" stroke-width="0.5"/><path d="M476 620 C482 616 488 618 492 624" stroke="#f0b6ba" stroke-width="1" fill="none"/>
<path d="M467 650 C472 644 482 645 486 652 C489 660 486 672 480 680 C476 686 468 688 465 684 C462 676 462 660 467 650Z" fill="#eaa99c" stroke="#cf8a7c" stroke-width="0.6"/><path d="M470 656 C474 651 480 653 481 659 C482 666 476 672 472 678" fill="none" stroke="#c9786c" stroke-width="1.200"/>
<path d="M543.500 605 H548 V626 C556 623 562 629 561 637 C560 645 552 648 546 646 C541 644 540 637 543 630Z" fill="#eba9a2" stroke="#cf8a84" stroke-width="0.6"/>
<path d="M549 630 C554 628 558 632 557 637" fill="none" stroke="#f6d2cc" stroke-width="1.200"/>
<path d="M513.0 688.0 C512.9 685.8 512.7 679.3 512.5 675.0 C512.3 670.7 512.0 666.2 512.0 662.0 C512.0 657.8 511.8 653.0 512.5 650.0 C513.2 647.0 514.6 644.7 516.0 644.0 C517.4 643.3 520.3 644.7 521.0 646.0 C521.7 647.3 520.2 651.0 520.0 652.0" fill="none" stroke="#cd7c84" stroke-width="10" stroke-linecap="round" stroke-linejoin="round"/>
<path d="M513.0 688.0 C512.9 685.8 512.7 679.3 512.5 675.0 C512.3 670.7 512.0 666.2 512.0 662.0 C512.0 657.8 511.8 653.0 512.5 650.0 C513.2 647.0 514.6 644.7 516.0 644.0 C517.4 643.3 520.3 644.7 521.0 646.0 C521.7 647.3 520.2 651.0 520.0 652.0" fill="none" stroke="#eda6aa" stroke-width="8.400" stroke-linecap="round" stroke-linejoin="round"/>
<path d="M508.500 654 H516.500 M508.500 661 H516.500 M508.500 668 H516.500 M508.500 675 H516.500 M508.500 682 H516.500" stroke="#cd7c84" stroke-width="0.6"/>
<path d="M546.0 646.0 C544.7 645.2 540.7 641.0 538.0 641.0 C535.3 641.0 531.3 643.7 530.0 646.0 C528.7 648.3 528.3 653.0 530.0 655.0 C531.7 657.0 536.7 658.3 540.0 658.0 C543.3 657.7 546.7 653.3 550.0 653.0 C553.3 652.7 557.8 654.2 560.0 656.0 C562.2 657.8 563.8 661.8 563.0 664.0 C562.2 666.2 558.0 668.8 555.0 669.0 C552.0 669.2 548.3 665.3 545.0 665.0 C541.7 664.7 537.0 665.3 535.0 667.0 C533.0 668.7 531.8 673.0 533.0 675.0 C534.2 677.0 538.7 678.8 542.0 679.0 C545.3 679.2 549.7 675.7 553.0 676.0 C556.3 676.3 561.2 678.7 562.0 681.0 C562.8 683.3 560.5 689.0 558.0 690.0 C555.5 691.0 550.5 686.8 547.0 687.0 C543.5 687.2 540.2 691.0 537.0 691.0 C533.8 691.0 529.7 689.3 528.0 687.0 C526.3 684.7 527.7 680.2 527.0 677.0 C526.3 673.8 524.5 669.5 524.0 668.0" fill="none" stroke="#cd7c84" stroke-width="7.200" stroke-linecap="round" stroke-linejoin="round"/>
<path d="M546.0 646.0 C544.7 645.2 540.7 641.0 538.0 641.0 C535.3 641.0 531.3 643.7 530.0 646.0 C528.7 648.3 528.3 653.0 530.0 655.0 C531.7 657.0 536.7 658.3 540.0 658.0 C543.3 657.7 546.7 653.3 550.0 653.0 C553.3 652.7 557.8 654.2 560.0 656.0 C562.2 657.8 563.8 661.8 563.0 664.0 C562.2 666.2 558.0 668.8 555.0 669.0 C552.0 669.2 548.3 665.3 545.0 665.0 C541.7 664.7 537.0 665.3 535.0 667.0 C533.0 668.7 531.8 673.0 533.0 675.0 C534.2 677.0 538.7 678.8 542.0 679.0 C545.3 679.2 549.7 675.7 553.0 676.0 C556.3 676.3 561.2 678.7 562.0 681.0 C562.8 683.3 560.5 689.0 558.0 690.0 C555.5 691.0 550.5 686.8 547.0 687.0 C543.5 687.2 540.2 691.0 537.0 691.0 C533.8 691.0 529.7 689.3 528.0 687.0 C526.3 684.7 527.7 680.2 527.0 677.0 C526.3 673.8 524.5 669.5 524.0 668.0" fill="none" stroke="#eda6aa" stroke-width="5.800" stroke-linecap="round" stroke-linejoin="round"/>
<path d="M546.0 646.0 C544.7 645.2 540.7 641.0 538.0 641.0 C535.3 641.0 531.3 643.7 530.0 646.0 C528.7 648.3 528.3 653.0 530.0 655.0 C531.7 657.0 536.7 658.3 540.0 658.0 C543.3 657.7 546.7 653.3 550.0 653.0 C553.3 652.7 557.8 654.2 560.0 656.0 C562.2 657.8 563.8 661.8 563.0 664.0 C562.2 666.2 558.0 668.8 555.0 669.0 C552.0 669.2 548.3 665.3 545.0 665.0 C541.7 664.7 537.0 665.3 535.0 667.0 C533.0 668.7 531.8 673.0 533.0 675.0 C534.2 677.0 538.7 678.8 542.0 679.0 C545.3 679.2 549.7 675.7 553.0 676.0 C556.3 676.3 561.2 678.7 562.0 681.0 C562.8 683.3 560.5 689.0 558.0 690.0 C555.5 691.0 550.5 686.8 547.0 687.0 C543.5 687.2 540.2 691.0 537.0 691.0 C533.8 691.0 529.7 689.3 528.0 687.0 C526.3 684.7 527.7 680.2 527.0 677.0 C526.3 673.8 524.5 669.5 524.0 668.0" fill="none" stroke="#f8d6d6" stroke-width="1.500" stroke-linecap="round" stroke-linejoin="round" opacity="0.8" transform="translate(-0.8 -0.8)"/>
</g>
<path d="M493 653 C496 646 502 640 506 632 C511 620 510 606 507 598 C504 590 498 586 490 585.500 L482 585" fill="none" stroke="#2d7db6" stroke-width="1.2" stroke-linecap="round"/>
<path d="M498 659 C504 648 512 640 513 630 C514.500 616 513 602 509 595 C506 588 500 584.500 492 584 L483 584" fill="none" stroke="#d9574a" stroke-width="1.2" stroke-linecap="round"/>
<path d="M492 643 C486 640 478 637 474 632 C469 626 469 618 474 613 C477 610 480 609 482 608" fill="none" stroke="#2d7db6" stroke-width="1.2" stroke-linecap="round"/>
<path d="M476 635 C472 633 467 630 464 628" fill="none" stroke="#2d7db6" stroke-width="1.2" stroke-linecap="round"/>
<path d="M486 640 C484 634 482 630 480 626" fill="none" stroke="#2d7db6" stroke-width="1.2" stroke-linecap="round"/>
<path d="M468 626 L472 632 M486 628 L490 634 M480 622 L484 628" fill="none" stroke="#d9574a" stroke-width="1" stroke-linecap="round"/>
<path d="M494 661 C498 652 504 644 510 639 C518 632 524 624 530 622 L540 622 C544 620 545 614 545 609" fill="none" stroke="#2d7db6" stroke-width="1.2" stroke-linecap="round"/>
<path d="M498 659 C504 650 512 642 518 635 C524 628 530 624.500 534 624 L543 627 C546 622 547.500 616 548 612" fill="none" stroke="#d9574a" stroke-width="1.2" stroke-linecap="round"/>
<path d="M544.500 622 C545 630 544 640 540 652 C536 664 530 672 524 676 C520 678 517 678 516 677 M524 676 L519 691 M530 672 L534 682 M540 652 L544 664" fill="none" stroke="#2d7db6" stroke-width="1.2" stroke-linecap="round"/>
<path d="M547 628 C548 640 544 654 538 664 M515 652 C516 664 516 674 517 684" fill="none" stroke="#d9574a" stroke-width="1" stroke-linecap="round"/>
<path d="M492 673 C488 669 486 667 484 666 C480 665 476 668 471 669 M486 667 L486 663 C484 662 480 663 478 663" fill="none" stroke="#2d7db6" stroke-width="1.2" stroke-linecap="round"/>
<g id="tongue">
<path d="M29.600 636.600 C32 634.500 36 635 40 635 L89 636 C86 646 84 654 84.400 662.300 C85 670 87 676 89 681.700 C92 687 95 691 98 694.300 L46.700 695.400 C50 690 52.400 684 52.400 678.300 L51.300 666.900 L38.700 662.300 L35.900 654.300 L35.300 647.400 L36.400 640.600Z" fill="url(#gSkin2)"/>
<path d="M62 640 C68 644 71 652 70.700 662 C70 668 68 672 66 674 L58 668 L60 650Z" fill="#e6a59c"/>
<path d="M41 652 C44 645 58 644 62.700 652 C65 658 63 663 58 665 L46 664.600 C41 662 39.500 657 41 652Z" fill="#d78780"/>
<path d="M37.600 650.500 C40 642.500 52 639.500 59.300 644.500 C62 647 63 651 62.700 655" fill="none" stroke="#7a3a34" stroke-width="1.700"/>
<ellipse cx="39.900" cy="658.500" rx="2.600" ry="4" fill="#d8c9a0"/>
<path d="M52 666.500 L57 666 L57.500 687 L53.500 687.500Z" fill="#d98f88"/><path d="M57 667.500 L61.500 665.500 L76.500 683.500 L73.500 686.500Z" fill="#d68a84"/><path d="M59 668 L74 685" stroke="#f0c0b8" stroke-width="0.7"/><path d="M70.500 682 L74.500 686.500" stroke="#fff" stroke-width="1.600"/>
</g>
<g id="neck">
<path d="M110 632.700 C112 630.500 116 630 120 630 L169.300 630 C168.500 634 168 638 168 641.700 C166 650 163.500 657 162.800 663.600 C165 670 168 675 171.800 679 C176 682 179 685 180.800 689.300 L182 695.700 L126.900 695.700 C131 691 134 686 134.600 680.300 L130.700 667.400 L132 656.500 L121.700 656.500 L116.600 653.300 L117.500 649.500 L116.600 646.200 L115.300 641.700 L116.600 637.200Z" fill="url(#gSkin2)"/>
<path d="M147.400 637.900 L166.700 637.900 C166 648 164 657 162.800 663.600 C165 670 168 675 171.800 679.500 L134.600 680.300 C137 672 140 660 143 650Z" fill="#dc9a92"/>
<g stroke="#f1cbc2" stroke-width="1.100" fill="none"><path d="M150 640 L139 678"/><path d="M155.500 640 L148 679"/><path d="M161 640 L158 679"/></g>
<g stroke="#c97c78" stroke-width="0.7" fill="none"><path d="M152.800 640 L143.500 678"/><path d="M158.300 640 L153 679"/><path d="M164 642 L164.500 678"/></g>
<path d="M121.700 656.500 L132 656.500 L130.700 662 C126 661 123 659 121.700 656.500Z" fill="#cfa68a" opacity="0.7"/>
<path d="M132 681.500 C144 678 160 678.500 174 682 L181 689.500 L182 695.700 L126.900 695.700 C130 691 132 686 132 681.500Z" fill="#eac4a6"/>
<ellipse cx="147.500" cy="637.500" rx="2" ry="3" fill="#c9a088"/>
</g>
<g transform="translate(204 690) rotate(-27)" fill="#777" font-family="Liberation Serif, serif" font-style="italic"><text x="0" y="0" font-size="15" textLength="36" lengthAdjust="spacingAndGlyphs">f. Netter</text><path d="M-2 3 H34" stroke="#777" stroke-width="0.8"/></g>
<path d="M573 609.800 H599.800" stroke="#d9574a" stroke-width="1.400" stroke-dasharray="4.500 2.600" fill="none"/>
<path d="M573 633.900 H599.800" stroke="#d9574a" stroke-width="1.400" fill="none"/>
<path d="M573 658.300 H599.800" stroke="#2d7db6" stroke-width="1.400" fill="none"/>
<path d="M123.6 281.0 C122.0 285.0 116.9 298.0 114.0 305.0 C111.1 312.0 110.0 313.8 106.0 323.0 C102.0 332.2 95.3 347.7 90.0 360.0 C84.7 372.3 77.8 389.2 74.0 397.0 C70.2 404.8 69.7 404.4 67.0 407.0 C64.3 409.6 61.0 411.8 58.0 412.5 C55.0 413.2 51.7 412.0 49.0 411.0 C46.3 410.0 43.8 407.8 42.0 406.5 C40.2 405.2 38.7 403.6 38.0 403.0" fill="none" stroke="#2878b4" stroke-width="5.400" stroke-linecap="butt" stroke-linejoin="round"/>
<path d="M60.0 411.0 C60.7 412.0 62.8 414.8 64.0 417.0 C65.2 419.2 66.9 422.8 67.5 424.0" fill="none" stroke="#2878b4" stroke-width="5.400" stroke-linecap="butt" stroke-linejoin="round"/>
<path d="M50.0 412.0 C49.3 413.0 47.1 416.0 46.0 418.0 C44.9 420.0 43.9 423.0 43.5 424.0" fill="none" stroke="#2878b4" stroke-width="5.400" stroke-linecap="butt" stroke-linejoin="round"/>
<path d="M123.6 281.0 C122.0 285.0 116.9 298.0 114.0 305.0 C111.1 312.0 110.0 313.8 106.0 323.0 C102.0 332.2 95.3 347.7 90.0 360.0 C84.7 372.3 77.8 389.2 74.0 397.0 C70.2 404.8 69.7 404.4 67.0 407.0 C64.3 409.6 61.0 411.8 58.0 412.5 C55.0 413.2 51.7 412.0 49.0 411.0 C46.3 410.0 43.8 407.8 42.0 406.5 C40.2 405.2 38.9 403.8 38.0 403.0 C37.1 402.2 36.8 402.2 36.5 402.0" fill="none" stroke="#f4f1ea" stroke-width="2.800" stroke-linecap="butt" stroke-linejoin="round"/>
<path d="M59.0 409.5 C59.2 409.8 59.2 409.8 60.0 411.0 C60.8 412.2 62.8 414.8 64.0 417.0 C65.2 419.2 66.8 422.6 67.5 424.0 C68.2 425.4 67.9 425.2 68.0 425.5" fill="none" stroke="#f4f1ea" stroke-width="2.800" stroke-linecap="butt" stroke-linejoin="round"/>
<path d="M51.0 410.5 C50.8 410.8 50.8 410.8 50.0 412.0 C49.2 413.2 47.1 416.0 46.0 418.0 C44.9 420.0 44.0 422.8 43.5 424.0 C43.0 425.2 43.1 425.2 43.0 425.5" fill="none" stroke="#f4f1ea" stroke-width="2.800" stroke-linecap="butt" stroke-linejoin="round"/>
<path d="M72.0 432.0 C72.3 430.0 72.8 424.0 74.0 420.0 C75.2 416.0 76.2 412.2 79.0 408.0 C81.8 403.8 85.2 400.3 91.0 395.0 C96.8 389.7 104.9 381.4 114.0 376.0 C123.1 370.6 134.7 366.0 145.7 362.3 C156.7 358.6 167.6 356.0 180.0 354.0 C192.4 352.0 206.7 351.6 220.0 350.5 C233.3 349.4 246.7 348.8 260.0 347.7 C273.3 346.6 286.7 345.5 300.0 343.7 C313.3 341.9 329.3 339.5 340.0 336.6 C350.7 333.7 357.3 330.4 364.0 326.3 C370.7 322.2 374.9 317.1 380.0 312.0 C385.1 306.9 390.0 300.5 394.3 295.7 C398.6 290.9 403.3 286.3 406.0 283.0 C408.7 279.7 409.7 278.4 410.7 276.0 C411.7 273.6 411.9 271.6 412.0 268.6 C412.1 265.6 411.2 259.8 411.0 258.0" fill="none" stroke="#d95a50" stroke-width="1.4" stroke-linecap="round" stroke-linejoin="round" />
<path d="M72.0 455.0 C72.2 452.5 72.4 445.2 73.0 440.0 C73.6 434.8 73.9 428.8 75.4 424.0 C76.9 419.2 78.8 415.1 82.0 411.0 C85.2 406.9 88.3 404.5 94.3 399.5 C100.3 394.5 109.4 386.5 118.0 381.0 C126.6 375.5 135.4 369.8 145.7 366.7 C156.0 363.6 167.6 364.0 180.0 362.6 C192.4 361.2 206.7 359.8 220.0 358.5 C233.3 357.2 246.7 356.1 260.0 354.6 C273.3 353.1 286.7 351.5 300.0 349.7 C313.3 347.9 329.3 346.6 340.0 344.0 C350.7 341.4 357.3 338.8 364.0 334.3 C370.7 329.8 373.5 324.0 380.0 317.1 C386.5 310.2 397.6 298.6 402.9 292.9 C408.2 287.2 409.6 285.6 412.0 283.0 C414.4 280.4 415.8 279.9 417.0 277.0 C418.2 274.1 419.0 268.9 419.3 265.7 C419.6 262.5 419.1 259.3 419.0 258.0" fill="none" stroke="#d95a50" stroke-width="1.4" stroke-linecap="round" stroke-linejoin="round" />
<path d="M73.5 434.0 C74.2 432.3 76.0 427.2 78.0 424.0 C80.0 420.8 82.2 417.9 85.5 414.5 C88.8 411.1 91.6 408.3 97.5 403.5 C103.4 398.7 113.0 390.9 121.0 385.5 C129.0 380.1 135.9 374.0 145.7 370.9 C155.5 367.8 167.6 368.2 180.0 366.6 C192.4 365.1 206.7 363.1 220.0 361.6 C233.3 360.1 246.7 358.9 260.0 357.4 C273.3 355.9 286.7 354.6 300.0 352.8 C313.3 351.0 329.3 348.8 340.0 346.3 C350.7 343.8 357.3 341.6 364.0 337.7 C370.7 333.8 374.9 326.8 380.0 322.9 C385.1 319.0 389.1 318.8 394.3 314.3 C399.5 309.8 406.8 300.6 411.4 295.7 C416.0 290.8 419.4 287.9 422.0 285.0 C424.6 282.1 425.6 282.1 427.0 278.6 C428.4 275.2 430.2 268.7 430.7 264.3 C431.2 259.9 430.1 254.1 430.0 252.0" fill="none" stroke="#d95a50" stroke-width="1.4" stroke-linecap="round" stroke-linejoin="round" />
<path d="M94.3 413.7 C95.2 411.8 96.4 405.5 100.0 402.0 C103.6 398.5 109.3 395.2 116.0 392.5 C122.7 389.8 132.2 387.6 140.0 386.0 C147.8 384.4 156.1 383.5 162.8 383.0 C169.5 382.5 170.5 383.2 180.0 382.8 C189.5 382.4 206.7 381.3 220.0 380.6 C233.3 379.9 246.7 379.2 260.0 378.6 C273.3 378.0 283.8 377.5 300.0 376.8 C316.2 376.1 343.7 375.9 357.0 374.3 C370.3 372.7 369.0 370.8 380.0 367.4 C391.0 363.9 412.9 357.2 422.9 353.6 C432.9 350.0 435.7 348.7 440.0 345.7 C444.3 342.7 446.7 340.5 448.6 335.7 C450.5 330.9 450.4 324.1 451.4 317.0 C452.3 309.9 453.2 298.2 454.3 292.9 C455.4 287.6 456.5 286.7 457.9 285.0 C459.3 283.3 462.1 283.2 462.9 282.9" fill="none" stroke="#2878b4" stroke-width="1.4" stroke-linecap="round" stroke-linejoin="round" />
<path d="M103.9 420.6 C104.9 418.5 106.7 411.8 110.0 408.0 C113.3 404.2 118.2 400.8 124.0 398.0 C129.8 395.2 138.5 392.7 145.0 391.0 C151.5 389.3 157.0 388.7 162.8 388.0 C168.6 387.3 170.5 387.3 180.0 386.8 C189.5 386.3 206.7 385.4 220.0 384.8 C233.3 384.2 246.7 383.6 260.0 383.1 C273.3 382.6 283.8 382.4 300.0 381.7 C316.2 381.0 343.7 380.5 357.0 378.9 C370.3 377.3 369.0 375.5 380.0 372.0 C391.0 368.5 412.2 361.8 422.9 357.9 C433.6 354.0 439.3 352.1 444.3 348.6 C449.3 345.1 451.1 341.8 452.9 337.0 C454.7 332.2 454.2 324.7 455.0 320.0 C455.8 315.3 456.7 311.1 457.9 308.6 C459.1 306.1 461.3 305.6 462.0 305.0" fill="none" stroke="#2878b4" stroke-width="1.4" stroke-linecap="round" stroke-linejoin="round" />
<path d="M121.7 439.4 C122.6 437.7 124.1 434.1 127.0 429.0 C129.9 423.9 134.2 414.0 138.9 408.6 C143.6 403.2 149.3 399.4 155.0 396.5 C160.7 393.6 168.8 392.5 173.0 391.4 C177.2 390.3 172.2 390.2 180.0 389.7 C187.8 389.2 206.7 388.8 220.0 388.5 C233.3 388.2 246.7 388.2 260.0 387.7 C273.3 387.2 283.8 386.5 300.0 385.7 C316.2 384.9 343.7 384.5 357.0 382.9 C370.3 381.3 369.0 379.8 380.0 376.3 C391.0 372.8 411.5 366.1 422.9 362.0 C434.3 357.9 442.9 355.1 448.6 351.4 C454.3 347.7 455.3 344.3 457.0 340.0 C458.7 335.7 457.8 328.9 458.6 325.7 C459.4 322.5 461.4 321.5 462.0 320.7" fill="none" stroke="#2878b4" stroke-width="1.4" stroke-linecap="round" stroke-linejoin="round" />
<path d="M124.5 440.5 C125.4 438.9 127.1 435.8 130.0 431.0 C132.9 426.2 137.3 417.2 142.0 412.0 C146.7 406.8 152.8 402.9 158.0 400.0 C163.2 397.1 169.3 396.1 173.0 394.9 C176.7 393.7 172.2 393.3 180.0 392.9 C187.8 392.4 206.7 392.4 220.0 392.2 C233.3 392.0 246.7 392.0 260.0 391.7 C273.3 391.4 283.8 391.1 300.0 390.3 C316.2 389.5 343.7 388.5 357.0 386.9 C370.3 385.3 369.0 384.0 380.0 380.7 C391.0 377.4 412.2 370.7 422.9 367.0 C433.6 363.3 438.1 360.7 444.3 358.6 C450.5 356.5 454.1 355.1 460.0 354.3 C465.9 353.5 471.8 352.9 480.0 353.6 C488.2 354.3 501.1 356.9 509.4 358.6 C517.7 360.3 522.4 362.3 530.0 363.7 C537.6 365.1 546.7 366.8 555.0 367.0 C563.3 367.2 572.5 366.8 580.0 365.0 C587.5 363.2 594.5 359.6 600.0 356.5 C605.5 353.4 609.2 350.8 613.0 346.4 C616.8 342.0 620.5 335.6 623.0 330.0 C625.5 324.4 627.1 318.0 628.0 313.0 C628.9 308.0 628.8 303.6 628.5 300.0 C628.2 296.4 626.8 292.8 626.4 291.4" fill="none" stroke="#d95a50" stroke-width="1.4" stroke-linecap="round" stroke-linejoin="round" />
<path d="M95.7 468.6 C98.4 466.7 106.0 460.8 112.0 457.0 C118.0 453.2 124.4 449.4 131.4 445.7 C138.5 442.0 146.2 436.9 154.3 434.8 C162.4 432.7 162.4 433.1 180.0 432.9 C197.6 432.7 240.0 433.6 260.0 433.8 C280.0 434.0 280.0 434.1 300.0 434.3 C320.0 434.5 356.7 434.9 380.0 435.2 C403.3 435.5 426.4 436.1 440.0 436.2 C453.6 436.3 455.9 436.2 461.4 435.7 C466.9 435.2 469.9 434.4 472.9 433.0 C475.9 431.6 477.8 429.7 479.5 427.0 C481.2 424.3 482.2 420.3 483.0 417.0 C483.8 413.7 484.1 408.7 484.3 407.0" fill="none" stroke="#d95a50" stroke-width="1.4" stroke-linecap="round" stroke-linejoin="round" />
<path d="M97.0 470.5 C99.8 468.7 108.0 463.1 114.0 459.5 C120.0 455.9 126.0 452.3 133.0 448.8 C140.0 445.3 148.2 440.5 156.0 438.6 C163.8 436.7 162.7 437.7 180.0 437.4 C197.3 437.1 240.0 436.9 260.0 436.9 C280.0 436.9 280.0 437.2 300.0 437.5 C320.0 437.8 350.0 437.8 380.0 438.5 C410.0 439.2 460.0 440.8 480.0 441.6 C500.0 442.4 486.7 442.8 500.0 443.4 C513.3 444.0 540.0 444.8 560.0 445.2 C580.0 445.6 605.8 446.1 620.0 446.0 C634.2 445.9 638.5 445.2 645.0 444.5 C651.5 443.8 655.1 443.1 658.8 441.8 C662.5 440.6 665.2 439.0 667.0 437.0 C668.8 435.0 669.3 436.3 669.8 430.0 C670.3 423.7 669.9 406.0 669.8 399.4 C669.7 392.8 669.9 393.4 669.0 390.4 C668.1 387.4 665.3 382.9 664.6 381.4" fill="none" stroke="#d95a50" stroke-width="1.4" stroke-linecap="round" stroke-linejoin="round" />
<path d="M98.5 472.5 C101.4 470.8 109.9 465.8 116.0 462.5 C122.1 459.2 128.0 455.6 135.0 452.5 C142.0 449.4 150.5 445.5 158.0 444.0 C165.5 442.5 163.0 443.9 180.0 443.5 C197.0 443.1 240.0 441.7 260.0 441.4 C280.0 441.1 280.0 441.7 300.0 441.7 C320.0 441.7 350.0 440.9 380.0 441.5 C410.0 442.1 460.0 444.1 480.0 445.0 C500.0 445.9 486.7 446.5 500.0 447.0 C513.3 447.5 540.0 447.7 560.0 448.0 C580.0 448.3 605.8 448.8 620.0 448.8 C634.2 448.8 638.1 448.3 645.0 447.8 C651.9 447.3 657.1 446.8 661.4 445.7 C665.6 444.6 668.5 443.1 670.5 441.0 C672.5 438.9 673.1 439.7 673.6 432.8 C674.1 425.9 673.7 407.5 673.6 399.4 C673.5 391.3 674.4 388.7 673.0 384.0 C671.6 379.3 668.2 373.6 665.3 371.0 C662.4 368.4 657.2 369.0 655.6 368.6" fill="none" stroke="#2878b4" stroke-width="1.4" stroke-linecap="round" stroke-linejoin="round" />
<path d="M665.3 371.0 L667.8 364.0" fill="none" stroke="#2878b4" stroke-width="1.4" stroke-linecap="round" stroke-linejoin="round" />
<path d="M671.7 396.8 L665.3 393.0" fill="none" stroke="#2878b4" stroke-width="1.4" stroke-linecap="round" stroke-linejoin="round" />
<path d="M673.0 388.0 C672.2 387.3 669.7 384.7 668.0 384.0 C666.3 383.3 663.8 384.0 663.0 384.0" fill="none" stroke="#2878b4" stroke-width="1.4" stroke-linecap="round" stroke-linejoin="round" />
<path d="M101.4 476.5 C107.8 475.8 126.9 473.6 140.0 472.5 C153.1 471.4 166.7 470.8 180.0 470.0 C193.3 469.2 206.7 468.6 220.0 468.0 C233.3 467.4 243.3 466.9 260.0 466.6 C276.7 466.4 302.2 466.3 320.0 466.5 C337.8 466.7 350.1 466.6 366.8 468.0 C383.5 469.4 403.3 472.1 420.0 475.0 C436.7 477.9 453.7 483.1 467.0 485.5 C480.3 487.9 491.2 488.4 500.0 489.5 C508.8 490.6 514.9 491.6 520.0 491.8 C525.1 492.1 527.6 491.8 530.9 491.0 C534.2 490.2 537.4 488.7 540.0 487.0 C542.6 485.3 545.2 482.0 546.3 481.0" fill="none" stroke="#2878b4" stroke-width="1.4" stroke-linecap="round" stroke-linejoin="round" />
<path d="M101.4 479.0 C107.8 478.8 126.9 477.9 140.0 477.5 C153.1 477.1 166.7 476.8 180.0 476.3 C193.3 475.8 206.7 475.0 220.0 474.4 C233.3 473.8 243.3 473.1 260.0 472.9 C276.7 472.7 302.2 472.9 320.0 473.3 C337.8 473.7 350.1 473.8 366.8 475.4 C383.5 477.0 403.3 480.1 420.0 483.0 C436.7 485.9 453.7 490.6 467.0 493.0 C480.3 495.4 489.5 496.2 500.0 497.4 C510.5 498.6 521.7 499.5 530.0 500.0 C538.3 500.5 544.7 500.6 549.7 500.3 C554.7 500.1 556.9 499.4 560.0 498.5 C563.1 497.6 566.3 496.6 568.6 494.9 C570.9 493.1 572.9 490.0 574.0 488.0 C575.1 486.0 575.4 484.2 575.4 482.9 C575.4 481.6 574.0 480.7 573.7 480.3" fill="none" stroke="#2878b4" stroke-width="1.4" stroke-linecap="round" stroke-linejoin="round" />
<path d="M93.6 491.0 C100.1 492.3 118.5 496.1 132.9 498.6 C147.3 501.1 168.3 504.1 180.0 506.0 C191.7 507.9 194.1 508.6 202.9 510.0 C211.7 511.4 223.5 513.1 233.0 514.5 C242.5 515.9 240.5 515.8 260.0 518.6 C279.5 521.5 323.3 526.7 350.0 531.6 C376.7 536.5 400.5 542.9 420.0 548.0 C439.5 553.1 450.3 557.9 467.0 562.0 C483.7 566.1 504.5 569.7 520.0 572.5 C535.5 575.3 547.5 577.4 560.0 579.0 C572.5 580.6 584.2 581.8 595.0 582.0 C605.8 582.2 617.8 582.2 625.0 580.5 C632.2 578.8 635.0 574.5 638.5 571.5 C642.0 568.5 644.4 564.5 646.0 562.5 C647.6 560.5 647.8 560.0 648.2 559.5" fill="none" stroke="#2878b4" stroke-width="1.4" stroke-linecap="round" stroke-linejoin="round" />
<path d="M648.2 559.5 L647.5 552.0" fill="none" stroke="#2878b4" stroke-width="1.4" stroke-linecap="round" stroke-linejoin="round" />
<path d="M648.2 559.5 L652.7 551.2" fill="none" stroke="#2878b4" stroke-width="1.4" stroke-linecap="round" stroke-linejoin="round" />
<path d="M648.2 559.5 L655.0 558.7" fill="none" stroke="#2878b4" stroke-width="1.4" stroke-linecap="round" stroke-linejoin="round" />
<path d="M85.7 493.4 C90.9 494.8 106.5 499.0 117.0 502.0 C127.5 505.0 138.1 508.9 148.6 511.4 C159.1 513.9 170.9 515.1 180.0 517.0 C189.1 518.9 194.1 520.9 202.9 522.9 C211.7 524.9 223.5 527.1 233.0 529.0 C242.5 530.9 240.5 531.0 260.0 534.3 C279.5 537.6 323.3 544.6 350.0 549.0 C376.7 553.4 400.5 557.0 420.0 560.5 C439.5 564.0 454.3 567.4 467.0 570.0 C479.7 572.6 485.5 574.2 496.0 576.0 C506.5 577.8 517.7 579.3 530.0 581.0 C542.3 582.7 559.2 584.8 570.0 586.0 C580.8 587.2 585.8 588.2 595.0 588.0 C604.2 587.8 617.2 587.0 625.0 585.0 C632.8 583.0 637.0 579.0 641.5 576.0 C646.0 573.0 648.8 569.2 652.0 567.0 C655.2 564.8 659.5 563.2 661.0 562.5" fill="none" stroke="#d95a50" stroke-width="1.4" stroke-linecap="round" stroke-linejoin="round" />
<path d="M93.6 500.4 C96.2 503.5 104.1 512.8 109.3 519.3 C114.5 525.8 119.8 533.9 125.0 539.7 C130.2 545.5 135.5 549.7 140.7 553.9 C145.9 558.1 149.8 560.4 156.4 564.9 C163.0 569.4 172.7 576.1 180.0 580.6 C187.3 585.1 191.2 587.4 200.0 592.0 C208.8 596.6 223.0 603.0 233.0 608.0 C243.0 613.0 248.8 616.7 260.0 622.0 C271.2 627.3 282.2 633.7 300.0 640.0 C317.8 646.3 344.5 653.3 366.8 660.0 C389.1 666.7 419.8 676.0 433.7 680.0 C447.6 684.0 443.9 682.3 450.0 684.0 C456.1 685.7 464.2 688.9 470.0 690.0 C475.8 691.1 481.5 690.8 485.0 690.5 C488.5 690.2 489.7 689.2 491.0 688.0 C492.3 686.8 492.7 689.2 493.0 683.0 C493.3 676.8 493.2 657.7 493.0 651.0 C492.8 644.3 492.2 644.3 492.0 643.0" fill="none" stroke="#2878b4" stroke-width="1.4" stroke-linecap="round" stroke-linejoin="round" />
<path d="M93.6 502.0 C95.7 505.1 101.3 514.1 106.0 520.9 C110.7 527.7 116.6 536.4 121.9 542.9 C127.2 549.4 132.6 554.8 137.6 560.0 C142.6 565.2 147.2 569.8 151.7 574.3 C156.1 578.8 159.8 583.3 164.3 586.9 C168.8 590.5 172.7 592.1 178.6 595.7 C184.5 599.3 190.9 604.3 200.0 608.6 C209.1 612.9 223.0 617.8 233.0 621.5 C243.0 625.2 248.8 626.6 260.0 631.0 C271.2 635.4 282.2 641.8 300.0 648.0 C317.8 654.2 344.5 661.8 366.8 668.0 C389.1 674.2 419.8 681.5 433.7 685.0 C447.6 688.5 443.1 687.8 450.0 689.0 C456.9 690.2 468.3 692.0 475.0 692.5 C481.7 693.0 486.6 692.6 490.0 692.0 C493.4 691.4 494.3 690.2 495.5 689.0 C496.7 687.8 496.6 690.0 497.0 685.0 C497.4 680.0 497.8 663.3 498.0 659.0" fill="none" stroke="#d95a50" stroke-width="1.4" stroke-linecap="round" stroke-linejoin="round" />
<path d="M93.6 504.4 C95.7 509.0 101.3 522.9 106.0 531.9 C110.7 540.9 117.4 551.5 121.9 558.6 C126.4 565.7 129.2 569.1 132.9 574.3 C136.6 579.5 139.9 584.8 143.9 590.0 C147.9 595.2 153.2 600.0 157.0 605.7 C160.8 611.4 164.5 618.6 167.0 624.3 C169.5 630.0 171.3 635.5 172.0 640.0 C172.7 644.5 172.9 647.6 171.4 651.4 C169.9 655.2 164.3 661.0 162.9 662.9" fill="none" stroke="#d95a50" stroke-width="1.4" stroke-linecap="round" stroke-linejoin="round" />
<path d="M172.0 647.0 C170.0 648.7 164.6 654.6 160.0 657.0 C155.4 659.4 146.9 660.7 144.3 661.4" fill="none" stroke="#d95a50" stroke-width="1.4" stroke-linecap="round" stroke-linejoin="round" />
<path d="M79.4 502.0 C79.8 506.2 81.9 517.6 81.8 527.0 C81.7 536.4 79.6 548.1 78.6 558.6 C77.5 569.1 75.8 582.6 75.5 590.0 C75.2 597.4 76.3 598.8 77.0 603.0 C77.7 607.2 78.7 610.8 79.5 615.0 C80.3 619.2 81.6 623.4 82.0 628.0 C82.4 632.6 82.5 638.7 82.0 642.9 C81.5 647.1 80.6 650.3 78.7 653.0 C76.8 655.7 73.4 657.6 70.7 658.9 C68.0 660.2 66.5 660.6 62.7 661.0 C58.9 661.4 50.4 661.0 47.9 661.0" fill="none" stroke="#d95a50" stroke-width="1.4" stroke-linecap="round" stroke-linejoin="round" />
<path d="M70.7 658.9 C69.2 658.7 64.8 657.9 62.0 657.5 C59.1 657.1 55.0 656.8 53.6 656.6" fill="none" stroke="#d95a50" stroke-width="1.1" stroke-linecap="round" stroke-linejoin="round" />
<path d="M66.0 594.0 C66.2 597.0 66.6 606.3 67.5 612.0 C68.4 617.7 70.3 622.9 71.3 628.0 C72.3 633.1 72.8 639.1 73.5 642.9 C74.2 646.7 75.8 648.0 75.5 650.9 C75.2 653.8 74.3 656.4 72.0 660.0 C69.7 663.6 63.3 670.5 61.6 672.6" fill="none" stroke="#d95a50" stroke-width="1.3" stroke-linecap="round" stroke-linejoin="round" stroke-dasharray="4.500 2.400"/>
<path d="M69.5 594.0 C69.8 597.0 70.1 606.3 71.0 612.0 C71.9 617.7 73.7 622.9 74.7 628.0 C75.7 633.1 76.3 638.9 77.0 642.9 C77.7 646.9 79.3 648.5 79.0 652.0 C78.7 655.5 77.3 660.0 75.0 664.0 C72.7 668.0 66.7 674.0 65.0 676.0" fill="none" stroke="#d95a50" stroke-width="1.3" stroke-linecap="round" stroke-linejoin="round" stroke-dasharray="4.500 2.400"/>
<path d="M73.0 594.0 C73.2 597.0 73.7 606.3 74.5 612.0 C75.3 617.7 77.1 622.5 78.0 628.0 C78.9 633.5 79.8 639.7 80.0 645.0 C80.2 650.3 79.8 655.8 79.0 660.0 C78.2 664.2 76.0 666.4 75.0 670.0 C74.0 673.6 73.3 679.8 73.0 681.7" fill="none" stroke="#d95a50" stroke-width="1.3" stroke-linecap="round" stroke-linejoin="round" stroke-dasharray="4.500 2.400"/>
<path d="M64.6 518.0 C64.7 525.0 64.8 547.3 65.0 560.0 C65.2 572.7 65.8 588.3 66.0 594.0" fill="none" stroke="#d95a50" stroke-width="1.2" stroke-linecap="round" stroke-linejoin="round" stroke-dasharray="4 2.400"/>
<g font-size="9" fill="#383838">
<text x="48.5" y="270.9" textLength="3.0" lengthAdjust="spacingAndGlyphs" font-weight="bold" fill="#161616">I</text>
<text x="31.0" y="280.9" textLength="37.5" lengthAdjust="spacingAndGlyphs" font-weight="bold" fill="#161616">Olfactory</text>
<text x="26.0" y="290.9" textLength="47.0" lengthAdjust="spacingAndGlyphs">Nasal cavity</text>
<text x="97.0" y="260.9" textLength="5.5" lengthAdjust="spacingAndGlyphs" font-weight="bold" fill="#161616">II</text>
<text x="88.6" y="270.2" textLength="21.8" lengthAdjust="spacingAndGlyphs" font-weight="bold" fill="#161616">Optic</text>
<text x="93.0" y="280.2" textLength="13.4" lengthAdjust="spacingAndGlyphs">Eye</text>
<text x="137.5" y="330.9" textLength="50.0" lengthAdjust="spacingAndGlyphs" font-weight="bold" fill="#161616">VI Abducens</text>
<text x="138.5" y="340.4" textLength="49.5" lengthAdjust="spacingAndGlyphs">Lateral rectus</text>
<text x="149.0" y="349.9" textLength="28.0" lengthAdjust="spacingAndGlyphs">muscle</text>
<text x="322.5" y="252.2" textLength="9.5" lengthAdjust="spacingAndGlyphs" font-weight="bold" fill="#161616">III</text>
<text x="301.6" y="261.9" textLength="48.4" lengthAdjust="spacingAndGlyphs" font-weight="bold" fill="#161616">Oculomotor</text>
<text x="281.5" y="272.7" textLength="88.5" lengthAdjust="spacingAndGlyphs">Medial rectus, superior</text>
<text x="268.0" y="282.4" textLength="115.5" lengthAdjust="spacingAndGlyphs">rectus, inferior rectus, inferior</text>
<text x="276.5" y="291.4" textLength="94.3" lengthAdjust="spacingAndGlyphs">oblique, levator palpebra,</text>
<text x="263.0" y="299.7" textLength="125.5" lengthAdjust="spacingAndGlyphs">ciliary muscle, and iris sphincter</text>
<text x="255.0" y="313.9" textLength="8.5" lengthAdjust="spacingAndGlyphs" font-weight="bold" fill="#161616">IV</text>
<text x="239.7" y="322.9" textLength="37.8" lengthAdjust="spacingAndGlyphs" font-weight="bold" fill="#161616">Trochlear</text>
<text x="212.0" y="333.3" textLength="94.0" lengthAdjust="spacingAndGlyphs">Superior oblique muscle</text>
<text x="417.0" y="304.9" textLength="6.0" lengthAdjust="spacingAndGlyphs" font-weight="bold" fill="#161616">V</text>
<text x="399.5" y="314.7" textLength="42.5" lengthAdjust="spacingAndGlyphs" font-weight="bold" fill="#161616">Trigeminal</text>
<text x="386.0" y="325.3" textLength="57.0" lengthAdjust="spacingAndGlyphs">Sensory—face,</text>
<text x="375.0" y="334.3" textLength="72.0" lengthAdjust="spacingAndGlyphs">sinuses, teeth, orbit</text>
<text x="375.0" y="343.7" textLength="67.0" lengthAdjust="spacingAndGlyphs">and oral cavities,</text>
<text x="375.0" y="352.9" textLength="40.0" lengthAdjust="spacingAndGlyphs">dura mater</text>
<text x="513.8" y="314.7" textLength="71.2" lengthAdjust="spacingAndGlyphs">Motor—muscles of</text>
<text x="513.8" y="323.5" textLength="107.2" lengthAdjust="spacingAndGlyphs">mastication: tensor tympani,</text>
<text x="513.8" y="332.8" textLength="77.6" lengthAdjust="spacingAndGlyphs">tensor veli palatini,</text>
<text x="513.8" y="342.1" textLength="75.2" lengthAdjust="spacingAndGlyphs">mylohyoid, anterior</text>
<text x="513.8" y="351.3" textLength="62.6" lengthAdjust="spacingAndGlyphs">belly of digastric</text>
<text x="407.0" y="382.2" textLength="8.0" lengthAdjust="spacingAndGlyphs" font-weight="bold" fill="#161616">VII</text>
<text x="401.0" y="393.4" textLength="22.6" lengthAdjust="spacingAndGlyphs" font-weight="bold" fill="#161616">Facial</text>
<text x="333.0" y="402.2" textLength="100.0" lengthAdjust="spacingAndGlyphs">Muscles of face stapedius,</text>
<text x="331.0" y="411.5" textLength="102.0" lengthAdjust="spacingAndGlyphs">posterior belly of digastric,</text>
<text x="346.7" y="420.8" textLength="86.3" lengthAdjust="spacingAndGlyphs">stylohyoid, occipitalis,</text>
<text x="360.0" y="430.3" textLength="73.0" lengthAdjust="spacingAndGlyphs">auricularis muscles</text>
<text x="559.6" y="389.9" textLength="73.4" lengthAdjust="spacingAndGlyphs" font-weight="bold" fill="#161616">Intermediate nerve</text>
<text x="550.6" y="399.5" textLength="91.4" lengthAdjust="spacingAndGlyphs">Motor—submandibular,</text>
<text x="545.0" y="408.7" textLength="103.0" lengthAdjust="spacingAndGlyphs">sublingual, lacrimal glands</text>
<text x="555.6" y="417.9" textLength="82.4" lengthAdjust="spacingAndGlyphs">Taste—anterior 2/3 of</text>
<text x="545.0" y="427.3" textLength="102.6" lengthAdjust="spacingAndGlyphs">tongue, sensory soft palate</text>
<text x="483.0" y="458.9" textLength="11.5" lengthAdjust="spacingAndGlyphs" font-weight="bold" fill="#161616">VIII</text>
<text x="458.0" y="467.9" textLength="71.0" lengthAdjust="spacingAndGlyphs" font-weight="bold" fill="#161616">Vestibulocochlear</text>
<text x="412.0" y="467.6" textLength="34.0" lengthAdjust="spacingAndGlyphs">Cochlear</text>
<text x="484.4" y="479.3" textLength="40.1" lengthAdjust="spacingAndGlyphs">Vestibular</text>
<text x="540.0" y="518.4" textLength="8.5" lengthAdjust="spacingAndGlyphs" font-weight="bold" fill="#161616">IX</text>
<text x="510.0" y="527.9" textLength="69.7" lengthAdjust="spacingAndGlyphs" font-weight="bold" fill="#161616">Glossopharyngeal</text>
<text x="487.5" y="537.9" textLength="115.0" lengthAdjust="spacingAndGlyphs">Taste—posterior 1/3 of tongue</text>
<text x="473.5" y="547.4" textLength="141.5" lengthAdjust="spacingAndGlyphs">Sensory—tonsil, pharynx, middle ear</text>
<text x="495.0" y="556.9" textLength="95.0" lengthAdjust="spacingAndGlyphs">Motor—stylopharyngeus,</text>
<text x="520.0" y="565.9" textLength="50.0" lengthAdjust="spacingAndGlyphs">parotid gland</text>
<text x="371.0" y="577.9" textLength="6.0" lengthAdjust="spacingAndGlyphs" font-weight="bold" fill="#161616">X</text>
<text x="362.8" y="588.1" textLength="23.2" lengthAdjust="spacingAndGlyphs" font-weight="bold" fill="#161616">Vagus</text>
<text x="302.0" y="597.6" textLength="144.4" lengthAdjust="spacingAndGlyphs">Motor—heart, lungs, palate, pharynx,</text>
<text x="311.6" y="606.9" textLength="126.1" lengthAdjust="spacingAndGlyphs">larynx, trachea, bronchi, GI tract</text>
<text x="314.0" y="616.1" textLength="119.7" lengthAdjust="spacingAndGlyphs">Sensory—heart, lungs, trachea,</text>
<text x="326.0" y="625.4" textLength="96.6" lengthAdjust="spacingAndGlyphs">bronchi, larynx, pharynx,</text>
<text x="334.0" y="634.9" textLength="79.6" lengthAdjust="spacingAndGlyphs">GI tract, external ear</text>
<text x="119.0" y="599.4" textLength="9.0" lengthAdjust="spacingAndGlyphs" font-weight="bold" fill="#161616">XI</text>
<text x="103.0" y="608.9" textLength="40.0" lengthAdjust="spacingAndGlyphs" font-weight="bold" fill="#161616">Accessory</text>
<text x="81.0" y="618.4" textLength="83.0" lengthAdjust="spacingAndGlyphs">Sternocleidomastoid,</text>
<text x="89.0" y="627.9" textLength="68.0" lengthAdjust="spacingAndGlyphs">trapezius muscles</text>
<text x="38.0" y="601.9" textLength="11.0" lengthAdjust="spacingAndGlyphs" font-weight="bold" fill="#161616">XII</text>
<text x="19.0" y="611.4" textLength="47.5" lengthAdjust="spacingAndGlyphs" font-weight="bold" fill="#161616">Hypoglossal</text>
<text x="29.0" y="620.9" textLength="28.0" lengthAdjust="spacingAndGlyphs">Tongue</text>
<text x="27.0" y="630.4" textLength="32.0" lengthAdjust="spacingAndGlyphs">muscles</text>
<text x="14.0" y="670.4" textLength="19.0" lengthAdjust="spacingAndGlyphs">Strap</text>
<text x="14.0" y="679.9" textLength="29.0" lengthAdjust="spacingAndGlyphs">muscles</text>
<text x="14.0" y="689.4" textLength="31.0" lengthAdjust="spacingAndGlyphs">(C1, 2, 3</text>
<text x="14.0" y="698.9" textLength="24.0" lengthAdjust="spacingAndGlyphs">fibers)</text>
<text x="603.8" y="611.7" textLength="47.8" lengthAdjust="spacingAndGlyphs" font-weight="bold" fill="#161616">Spinal nerve</text>
<text x="603.8" y="621.1" textLength="21.2" lengthAdjust="spacingAndGlyphs" font-weight="bold" fill="#161616">fibers</text>
<text x="603.8" y="635.4" textLength="62.2" lengthAdjust="spacingAndGlyphs" font-weight="bold" fill="#161616">Efferent (motor)</text>
<text x="603.8" y="644.7" textLength="21.2" lengthAdjust="spacingAndGlyphs" font-weight="bold" fill="#161616">fibers</text>
<text x="603.8" y="659.5" textLength="69.6" lengthAdjust="spacingAndGlyphs" font-weight="bold" fill="#161616">Afferent (sensory)</text>
<text x="603.8" y="668.9" textLength="21.2" lengthAdjust="spacingAndGlyphs" font-weight="bold" fill="#161616">fibers</text>
</g>
<text x="245.300" y="198.100" textLength="193.800" lengthAdjust="spacingAndGlyphs" font-weight="bold" fill="#161616"><tspan font-size="9.6">D</tspan><tspan font-size="7.6">ISTRIBUTION OF </tspan><tspan font-size="9.6">M</tspan><tspan font-size="7.6">OTOR AND </tspan><tspan font-size="9.6">S</tspan><tspan font-size="7.6">ENSORY </tspan><tspan font-size="9.6">F</tspan><tspan font-size="7.6">IBERS</tspan></text>
<g stroke="#1e1e1e" stroke-width="1.200" fill="none"><path d="M50 293 L39.800 348"/><path d="M189 328 C196 333 206 345 218 358"/><path d="M352 258 L368 258 L407 276.600"/><path d="M278.500 320 L393 309.800"/><path d="M436 469.500 L444 480.500"/><path d="M525 478 L549.600 500"/></g>
</svg>
<!--FIGSVG_END-->
<div id="textpanel" class="abs"></div>
<div id="text" class="abs">
<p><b>The Peripheral Nervous System</b></p>
<p>The peripheral nervous system comprises the cranial<br>nerves, spinal nerves, and the autonomic nervous system<br>(ANS).</p>
<p><b>Cranial Nerves:</b></p>
<p>There are twelve pairs of cranial nerves that transmit motor<br>or sensory impulses between the brain or brainstem and the<br>head and neck. 10 out of 12 cranial nerve pairs exit from<br>the brainstem. The two remaining pairs, the olfactory and<br>optic nerves, exit from the forebrain. Each pair is dedicated<br>to a particular function.</p>
<p>Cranial Nerves:</p>
<p><b>Olfactory</b> (CN I) – Sensory: Smell</p>
<p><b>Optic</b> (CN II) – Sensory: Vision</p>
</div>
<div id="tabbar" class="abs"></div>
<div class="tl" style="left:0">Atlas</div>
<div class="tl" style="left:140px;color:#111;-webkit-text-stroke:0.35px #111;">Terms</div>
<div class="tl" style="left:280px">PPT</div>
<div class="tl" style="left:420px">Video</div>
<div class="tl" style="left:560px">Quiz</div>
<div id="home" class="abs"></div>
<svg class="abs" style="left:0;top:0" width="700" height="140" viewBox="0 0 700 140">
<!-- signal dots -->
<g fill="#cbcbcb"><rect x="541" y="42.3" width="5.6" height="5.4" rx="1.6"/><rect x="549.2" y="42.3" width="5.6" height="5.4" rx="1.6"/><rect x="557.8" y="42.3" width="5.6" height="5.4" rx="1.6"/><rect x="566.3" y="42.3" width="5.6" height="5.4" rx="1.6"/></g>
<!-- wifi -->
<g fill="none" stroke="#000" stroke-linecap="butt">
<path d="M583.2 35.6 A17.4 17.4 0 0 1 607.6 35.600" stroke-width="4.4"/>
<path d="M587.9 40.6 A10.6 10.6 0 0 1 602.9 40.6" stroke-width="4.2"/>
</g>
<path d="M595.4 48.6 L590.9 44 A6.4 6.4 0 0 1 599.9 44 Z" fill="#000"/>
<!-- battery -->
<rect x="619.8" y="29.2" width="39" height="18.2" rx="5" fill="none" stroke="#a3a3a3" stroke-width="1.8"/>
<rect x="622.3" y="31.6" width="21" height="13.4" rx="3" fill="#000"/>
<path d="M661.3 34.6 a4 4 0 0 1 0 7.4z" fill="#a3a3a3"/>
<!-- chat info icon -->
<g transform="translate(34 76.5) scale(1.75)"><path fill="#000" fill-rule="evenodd" d="M20 2H4c-1.1 0-1.99.9-1.99 2L2 22l4-4h14c1.1 0 2-.9 2-2V4c0-1.1-.9-2-2-2zm0 14H5.17l-.59.59-.58.58V4h16v12zM11 6h2v2h-2zM11 10h2v4h-2z"/></g>
<!-- dots -->
<g fill="#000"><circle cx="129.8" cy="85.4" r="3.5"/><circle cx="140.8" cy="85.4" r="3.5"/><circle cx="151.8" cy="85.4" r="3.5"/><circle cx="129.8" cy="96.3" r="3.5"/><circle cx="140.8" cy="96.3" r="3.5"/><circle cx="151.8" cy="96.3" r="3.5"/><circle cx="129.8" cy="107.2" r="3.5"/><circle cx="140.8" cy="107.2" r="3.5"/><circle cx="151.8" cy="107.2" r="3.5"/></g>
<!-- share -->
<g fill="#000" stroke="#000"><path d="M571.8 85.4 L549.3 96.2 L571.8 107.2" fill="none" stroke-width="3.2"/><circle cx="549.3" cy="96.2" r="5.3" stroke="none"/><circle cx="571.8" cy="85.4" r="5.3" stroke="none"/><circle cx="571.8" cy="107.2" r="5.3" stroke="none"/></g>
<!-- exit -->
<g fill="none" stroke="#000" stroke-width="2.8"><path d="M653 87.5 V81 H633.6 V110.2 H653 V103.600"/><path d="M641 96 H659.500" /><path d="M654.5 90.6 L660 96 L654.5 101.400"/></g>
</svg>
<svg class="abs" style="left:0;top:1375px" width="700" height="65" viewBox="0 1375 700 65">
<!-- atlas -->
<g fill="none" stroke="#a9a9a9" stroke-width="2"><rect x="53.900" y="1394.3" width="32.300" height="24.400"/><path d="M54 1413.500 L63.700 1404 L78.500 1418.500"/><path d="M72.300 1412.200 L77.800 1406.200 L86 1414.800"/></g><circle cx="80" cy="1400" r="2" fill="#a9a9a9"/>
<!-- terms -->
<g fill="none" stroke="#2f2f2f" stroke-width="1.700"><path d="M226 1406 V1396.300 L216.300 1387.600 H197 V1424.400 H214"/><path d="M197 1387 V1425" stroke-width="3"/><path d="M216.300 1388 V1396.300 H226"/>
<rect x="201.700" y="1400.700" width="4" height="4"/><rect x="201.700" y="1407.300" width="4" height="4"/><rect x="201.700" y="1414" width="4" height="4"/>
<path d="M209 1402.700 H219.700 M209 1409.300 H217 M209 1416 H212.500"/>
<circle cx="222.600" cy="1418" r="7.600" fill="#fff"/><path d="M222.800 1413.600 V1420 L220 1422.300 M222.600 1410.400 V1408 M228.500 1412.500 L230 1411"/></g>
<!-- ppt -->
<g fill="none" stroke="#d2d2d2" stroke-width="1.800"><path d="M330.500 1390.800 L352.800 1387.300 V1424 L330.500 1420 Z" fill="#fff"/><path d="M353.500 1392.500 H366.600 V1418.600 H353.500"/><circle cx="358.800" cy="1400.300" r="3.800"/><path d="M355 1413.500 H363 M357 1413 V1410 M360 1413 V1408.500"/></g>
<!-- video -->
<g fill="none" stroke="#c6c6c6" stroke-width="1.600"><rect x="470.400" y="1390.800" width="38.200" height="26.800" rx="1.500"/><rect x="473.700" y="1387.400" width="31.600" height="24.600" fill="#fff"/><path d="M477.500 1390 V1411 M501.200 1390 V1411" stroke-dasharray="1.500 1.800"/><path d="M489.400 1394 V1406 M484.400 1401 L489.400 1406 L494.400 1401"/><path d="M485.500 1418 L483.500 1424 M493.500 1418 L495.500 1424 M480.300 1424.200 H498.600"/></g>
<!-- quiz -->
<g fill="none" stroke="#b4b4b4" stroke-width="2.200"><path d="M637.500 1397.500 H641.400 V1420.400 H623.200 V1416"/><rect x="618" y="1393.200" width="18.400" height="21.600"/></g>
</svg>
<div class="abs" style="left:617px;top:1394px;width:20px;text-align:center;font-size:17px;line-height:20px;color:#b4b4b4;">?</div>
<div class="abs" style="left:335px;top:1394px;width:14px;text-align:center;font-size:17px;line-height:20px;color:#d2d2d2;">P</div>
<!--ICONS_END-->
</div>
</body></html>
